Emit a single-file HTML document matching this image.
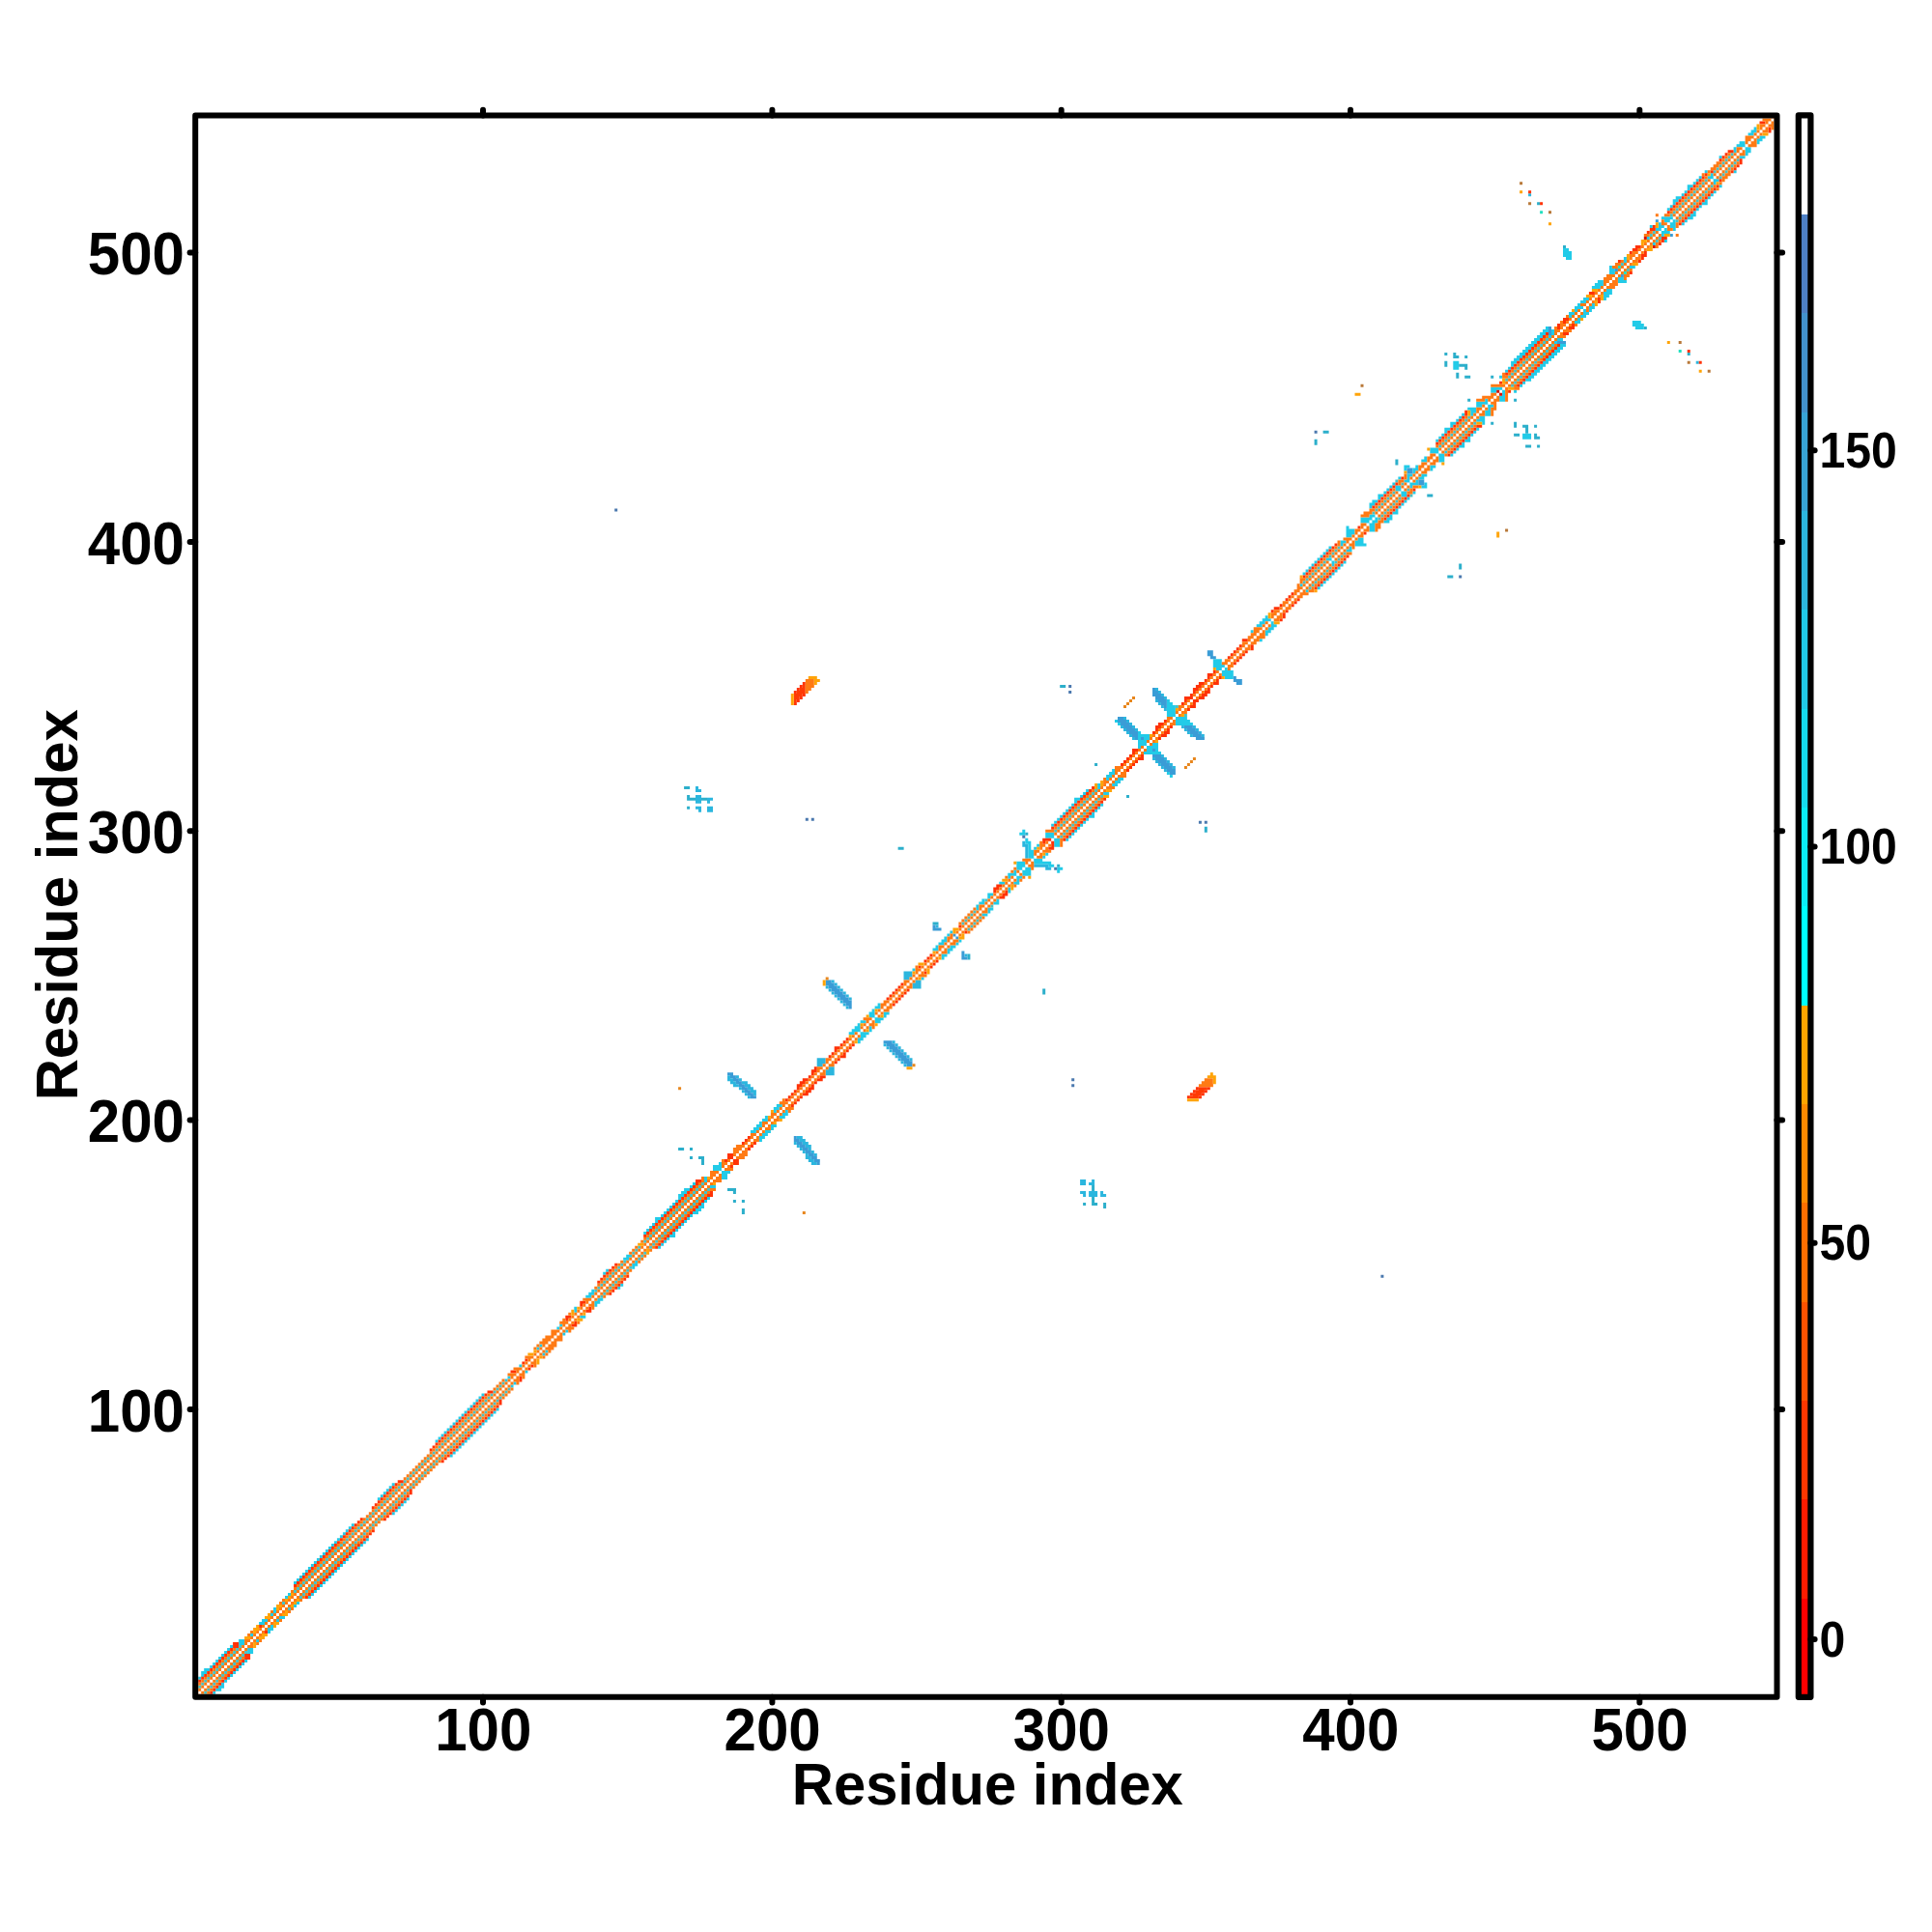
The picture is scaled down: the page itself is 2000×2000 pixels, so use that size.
<!DOCTYPE html><html><head><meta charset="utf-8"><title>Residue index</title>
<style>html,body{margin:0;padding:0;background:#fff}svg{display:block}text{font-family:"Liberation Sans",Arial,Helvetica,sans-serif;font-weight:bold;fill:#000}</style></head><body>
<svg width="2000" height="2000" viewBox="0 0 2000 2000">
<rect width="2000" height="2000" fill="#fff"/>
<g id="map">
<path fill="#22cbe8" d="M217.2 1753.8h3v3h-3zM220.2 1750.8h3v3h-3zM223.2 1747.8h6v3h-6zM226.1 1744.8h6v3h-6zM229.1 1741.8h3v3h-3zM202.2 1738.8h3v3h-3zM232.1 1738.8h3v3h-3zM205.2 1735.8h3v3h-3zM235.1 1735.8h3v3h-3zM208.2 1732.9h3v3h-3zM238.1 1732.9h3v3h-3zM208.2 1729.9h6v3h-6zM241.1 1729.9h3v3h-3zM211.2 1726.9h6v3h-6zM244.1 1726.9h3v3h-3zM217.2 1723.9h3v3h-3zM247.1 1723.9h3v3h-3zM220.2 1720.9h3v3h-3zM250.1 1720.9h3v3h-3zM223.2 1717.9h3v3h-3zM253.1 1717.9h3v3h-3zM226.1 1714.9h3v3h-3zM229.1 1711.9h3v3h-3zM232.1 1708.9h3v3h-3zM256.1 1708.9h6v3h-6zM235.1 1705.9h3v3h-3zM256.1 1705.9h6v3h-6zM238.1 1702.9h3v3h-3zM247.1 1699.9h6v3h-6zM247.1 1696.9h6v3h-6zM265.1 1696.9h3v3h-3zM259.1 1690.9h3v3h-3zM277 1688h3v3h-3zM277 1685h6v3h-6zM280 1682h3v3h-3zM268.1 1679h6v3h-6zM271 1676h6v3h-6zM286 1676h3v3h-3zM289 1673h6v3h-6zM280 1670h3v3h-3zM283 1667h3v3h-3zM283 1664h3v3h-3zM304 1661h3v3h-3zM307 1658h3v3h-3zM295 1652h3v3h-3zM318.9 1652h3v3h-3zM298 1649h3v3h-3zM321.9 1649h3v3h-3zM324.9 1646h3v3h-3zM327.9 1643.1h3v3h-3zM330.9 1640.1h3v3h-3zM304 1637.1h3v3h-3zM333.9 1637.1h3v3h-3zM307 1634.1h3v3h-3zM336.9 1634.1h3v3h-3zM310 1631.1h3v3h-3zM339.9 1631.1h3v3h-3zM312.9 1628.1h3v3h-3zM342.9 1628.1h3v3h-3zM315.9 1625.1h3v3h-3zM345.9 1625.1h3v3h-3zM318.9 1622.1h3v3h-3zM348.9 1622.1h3v3h-3zM321.9 1619.1h3v3h-3zM351.9 1619.1h3v3h-3zM324.9 1616.1h3v3h-3zM354.9 1616.1h3v3h-3zM327.9 1613.1h3v3h-3zM357.8 1613.1h3v3h-3zM330.9 1610.1h3v3h-3zM360.8 1610.1h3v3h-3zM333.9 1607.1h3v3h-3zM363.8 1607.1h3v3h-3zM336.9 1604.1h3v3h-3zM366.8 1604.1h3v3h-3zM339.9 1601.1h3v3h-3zM369.8 1601.1h3v3h-3zM342.9 1598.1h3v3h-3zM372.8 1598.1h3v3h-3zM345.9 1595.2h3v3h-3zM375.8 1595.2h3v3h-3zM348.9 1592.2h3v3h-3zM378.8 1592.2h3v3h-3zM351.9 1589.2h3v3h-3zM354.9 1586.2h3v3h-3zM357.8 1583.2h3v3h-3zM360.8 1580.2h3v3h-3zM363.8 1577.2h3v3h-3zM405.7 1565.2h3v3h-3zM408.7 1562.2h3v3h-3zM411.7 1559.2h3v3h-3zM414.7 1556.2h3v3h-3zM417.7 1553.2h3v3h-3zM390.8 1550.3h3v3h-3zM420.7 1550.3h3v3h-3zM393.8 1547.3h3v3h-3zM396.8 1544.3h3v3h-3zM399.8 1541.3h3v3h-3zM402.7 1538.3h3v3h-3zM405.7 1535.3h3v3h-3zM465.6 1505.4h3v3h-3zM468.6 1502.4h3v3h-3zM471.6 1499.4h3v3h-3zM474.6 1496.4h3v3h-3zM477.6 1493.4h3v3h-3zM450.6 1490.4h3v3h-3zM480.6 1490.4h3v3h-3zM453.6 1487.4h3v3h-3zM483.6 1487.4h3v3h-3zM456.6 1484.4h3v3h-3zM486.6 1484.4h3v3h-3zM459.6 1481.4h3v3h-3zM489.6 1481.4h3v3h-3zM462.6 1478.4h3v3h-3zM492.5 1478.4h3v3h-3zM465.6 1475.4h3v3h-3zM495.5 1475.4h3v3h-3zM468.6 1472.4h3v3h-3zM498.5 1472.4h3v3h-3zM471.6 1469.4h3v3h-3zM501.5 1469.4h3v3h-3zM474.6 1466.4h3v3h-3zM504.5 1466.4h3v3h-3zM477.6 1463.4h3v3h-3zM507.5 1463.4h3v3h-3zM480.6 1460.5h3v3h-3zM510.5 1460.5h3v3h-3zM483.6 1457.5h3v3h-3zM513.5 1457.5h3v3h-3zM486.6 1454.5h3v3h-3zM489.6 1451.5h3v3h-3zM492.5 1448.5h3v3h-3zM495.5 1445.5h3v3h-3zM498.5 1442.5h3v3h-3zM528.5 1433.5h3v3h-3zM531.5 1430.5h3v3h-3zM522.5 1427.5h3v3h-3zM525.5 1424.5h3v3h-3zM543.4 1418.5h3v3h-3zM537.4 1412.6h3v3h-3zM561.4 1400.6h3v3h-3zM564.4 1397.6h3v3h-3zM555.4 1394.6h3v3h-3zM558.4 1391.6h3v3h-3zM582.3 1379.6h3v3h-3zM585.3 1376.6h3v3h-3zM576.4 1373.6h3v3h-3zM579.3 1370.6h3v3h-3zM600.3 1361.7h6v3h-6zM594.3 1355.7h3v3h-3zM594.3 1352.7h3v3h-3zM615.3 1349.7h3v3h-3zM615.3 1346.7h6v3h-6zM618.3 1343.7h6v3h-6zM606.3 1340.7h6v3h-6zM609.3 1337.7h6v3h-6zM612.3 1334.7h3v3h-3zM639.2 1331.7h3v3h-3zM642.2 1328.7h3v3h-3zM624.2 1316.8h3v3h-3zM627.2 1313.8h3v3h-3zM654.2 1310.8h3v3h-3zM654.2 1307.8h6v3h-6zM657.2 1304.8h3v3h-3zM645.2 1301.8h6v3h-6zM648.2 1298.8h6v3h-6zM681.1 1289.8h3v3h-3zM684.1 1286.8h3v3h-3zM687.1 1283.8h3v3h-3zM690.1 1280.8h3v3h-3zM693.1 1277.9h6v3h-6zM666.2 1274.9h3v3h-3zM696.1 1274.9h3v3h-3zM669.1 1271.9h3v3h-3zM699.1 1271.9h3v3h-3zM672.1 1268.9h3v3h-3zM702.1 1268.9h3v3h-3zM675.1 1265.9h3v3h-3zM705.1 1265.9h3v3h-3zM678.1 1262.9h3v3h-3zM708.1 1262.9h3v3h-3zM678.1 1259.9h6v3h-6zM711.1 1259.9h3v3h-3zM684.1 1256.9h3v3h-3zM714 1256.9h3v3h-3zM687.1 1253.9h3v3h-3zM717 1253.9h6v3h-6zM690.1 1250.9h3v3h-3zM720 1250.9h6v3h-6zM693.1 1247.9h3v3h-3zM723 1247.9h6v3h-6zM696.1 1244.9h3v3h-3zM726 1244.9h3v3h-3zM699.1 1241.9h3v3h-3zM729 1241.9h3v3h-3zM702.1 1238.9h3v3h-3zM732 1238.9h3v3h-3zM702.1 1235.9h6v3h-6zM705.1 1233h6v3h-6zM708.1 1230h6v3h-6zM714 1227h3v3h-3zM735 1227h6v3h-6zM717 1224h3v3h-3zM729 1221h3v3h-3zM729 1218h3v3h-3zM747 1218h6v3h-6zM747 1215h6v3h-6zM747 1212h9v3h-9zM738 1209h9v3h-9zM738 1206h9v3h-9zM744 1203h3v3h-3zM785.9 1179.1h3v3h-3zM785.9 1176.1h6v3h-6zM788.9 1173.1h6v3h-6zM776.9 1170.1h6v3h-6zM791.9 1170.1h6v3h-6zM779.9 1167.1h6v3h-6zM797.9 1167.1h3v3h-3zM782.9 1164.1h6v3h-6zM797.9 1164.1h6v3h-6zM785.9 1161.1h3v3h-3zM788.9 1158.1h6v3h-6zM791.9 1155.1h3v3h-3zM806.8 1155.1h6v3h-6zM809.8 1152.1h6v3h-6zM800.8 1149.1h3v3h-3zM812.8 1149.1h3v3h-3zM800.8 1146.1h6v3h-6zM803.8 1143.1h6v3h-6zM887.7 1077.3h3v3h-3zM887.7 1074.3h6v3h-6zM890.6 1071.3h6v3h-6zM878.7 1068.3h6v3h-6zM890.6 1068.3h9v3h-9zM881.7 1065.3h9v3h-9zM899.6 1065.3h3v3h-3zM884.7 1062.3h6v3h-6zM899.6 1062.3h3v3h-3zM887.7 1059.3h3v3h-3zM890.6 1056.3h6v3h-6zM905.6 1056.3h6v3h-6zM905.6 1053.3h9v3h-9zM899.6 1050.4h6v3h-6zM914.6 1050.4h3v3h-3zM899.6 1047.4h6v3h-6zM914.6 1047.4h6v3h-6zM902.6 1044.4h3v3h-3zM905.6 1041.4h6v3h-6zM908.6 1038.4h3v3h-3zM953.5 1011.4h3v3h-3zM944.5 1002.5h3v3h-3zM974.5 990.5h3v3h-3zM974.5 987.5h6v3h-6zM980.4 984.5h3v3h-3zM965.5 981.5h6v3h-6zM980.4 981.5h6v3h-6zM968.5 978.5h3v3h-3zM983.4 978.5h6v3h-6zM971.5 975.5h6v3h-6zM989.4 975.5h3v3h-3zM974.5 972.5h6v3h-6zM992.4 972.5h3v3h-3zM977.4 969.5h3v3h-3zM980.4 966.5h3v3h-3zM983.4 963.5h3v3h-3zM1016.4 945.6h6v3h-6zM1022.3 942.6h3v3h-3zM1010.4 939.6h3v3h-3zM1022.3 939.6h6v3h-6zM1010.4 936.6h3v3h-3zM1013.4 933.6h6v3h-6zM1028.3 933.6h6v3h-6zM1016.4 930.6h3v3h-3zM1031.3 930.6h3v3h-3zM1022.3 927.6h3v3h-3zM1022.3 924.6h6v3h-6zM1043.3 921.6h3v3h-3zM1043.3 918.6h3v3h-3zM1034.3 912.7h6v3h-6zM1049.3 912.7h6v3h-6zM1052.3 909.7h3v3h-3zM1043.3 906.7h3v3h-3zM1052.3 906.7h6v3h-6zM1043.3 903.7h9v3h-9zM1058.3 903.7h9v3h-9zM1049.3 900.7h3v3h-3zM1058.3 900.7h9v3h-9zM1094.2 900.7h3v3h-3zM1052.3 897.7h6v3h-6zM1061.3 897.7h6v3h-6zM1094.2 897.7h6v3h-6zM1052.3 894.7h9v3h-9zM1085.2 894.7h6v3h-6zM1052.3 891.7h9v3h-9zM1070.2 891.7h18v3h-18zM1070.2 888.7h9v3h-9zM1064.3 885.7h6v3h-6zM1079.2 885.7h3v3h-3zM1064.3 882.7h6v3h-6zM1082.2 882.7h3v3h-3zM1064.3 879.7h6v3h-6zM1064.3 876.7h3v3h-3zM1070.2 876.7h3v3h-3zM1064.3 873.7h3v3h-3zM1073.2 873.7h3v3h-3zM1091.2 873.7h6v3h-6zM1061.3 870.7h6v3h-6zM1091.2 870.7h6v3h-6zM1061.3 867.8h3v3h-3zM1091.2 867.8h6v3h-6zM1103.2 867.8h3v3h-3zM1082.2 864.8h9v3h-9zM1106.2 864.8h3v3h-3zM1055.3 861.8h6v3h-6zM1082.2 861.8h9v3h-9zM1109.2 861.8h3v3h-3zM1058.3 858.8h3v3h-3zM1112.1 858.8h3v3h-3zM1115.1 855.8h3v3h-3zM1088.2 852.8h3v3h-3zM1118.1 852.8h3v3h-3zM1091.2 849.8h3v3h-3zM1121.1 849.8h3v3h-3zM1094.2 846.8h3v3h-3zM1124.1 846.8h3v3h-3zM1097.2 843.8h3v3h-3zM1127.1 843.8h6v3h-6zM1100.2 840.8h3v3h-3zM1130.1 840.8h3v3h-3zM1103.2 837.8h3v3h-3zM1133.1 837.8h3v3h-3zM1106.2 834.8h3v3h-3zM1136.1 834.8h3v3h-3zM1109.2 831.8h3v3h-3zM1139.1 831.8h3v3h-3zM1112.1 828.8h3v3h-3zM1112.1 825.8h6v3h-6zM1118.1 822.9h3v3h-3zM1121.1 819.9h3v3h-3zM1142.1 819.9h6v3h-6zM1124.1 816.9h3v3h-3zM1136.1 813.9h3v3h-3zM1136.1 810.9h3v3h-3zM1151.1 810.9h6v3h-6zM1154 807.9h6v3h-6zM1145.1 804.9h3v3h-3zM1157 804.9h6v3h-6zM1145.1 801.9h6v3h-6zM1210.9 801.9h3v3h-3zM1148.1 798.9h6v3h-6zM1207.9 798.9h3v3h-3zM1151.1 795.9h3v3h-3zM1184 778h18v3h-18zM1187 775h6v3h-6zM1196 775h3v3h-3zM1178 772h3v3h-3zM1187 772h12v3h-12zM1178 769h9v3h-9zM1193 769h6v3h-6zM1178 766h9v3h-9zM1178 763h3v3h-3zM1184 763h6v3h-6zM1178 760h12v3h-12zM1178 757h3v3h-3zM1157 748h3v3h-3zM1216.9 748h18v3h-18zM1154 745h3v3h-3zM1216.9 745h15v3h-15zM1216.9 742h12v3h-12zM1207.9 739h9v3h-9zM1207.9 736h9v3h-9zM1207.9 733.1h9v3h-9zM1207.9 730.1h9v3h-9zM1207.9 727.1h6v3h-6zM1207.9 724.1h3v3h-3zM1267.8 700.1h9v3h-9zM1264.8 697.1h12v3h-12zM1264.8 694.1h12v3h-12zM1258.8 691.1h6v3h-6zM1267.8 691.1h3v3h-3zM1255.8 688.1h12v3h-12zM1255.8 685.2h9v3h-9zM1255.8 682.2h9v3h-9zM1303.7 661.2h3v3h-3zM1309.7 655.2h3v3h-3zM1294.7 652.2h3v3h-3zM1309.7 652.2h6v3h-6zM1312.7 649.2h6v3h-6zM1300.7 646.2h6v3h-6zM1315.7 646.2h6v3h-6zM1303.7 643.2h6v3h-6zM1315.7 643.2h3v3h-3zM1306.7 640.3h9v3h-9zM1309.7 637.3h3v3h-3zM1351.6 610.3h3v3h-3zM1363.6 607.3h3v3h-3zM1345.6 604.3h3v3h-3zM1366.6 604.3h3v3h-3zM1369.6 601.3h3v3h-3zM1372.6 598.3h3v3h-3zM1375.5 595.4h3v3h-3zM1348.6 592.4h3v3h-3zM1378.5 592.4h3v3h-3zM1351.6 589.4h3v3h-3zM1381.5 589.4h3v3h-3zM1354.6 586.4h3v3h-3zM1384.5 586.4h3v3h-3zM1357.6 583.4h3v3h-3zM1378.5 583.4h3v3h-3zM1387.5 583.4h3v3h-3zM1360.6 580.4h3v3h-3zM1378.5 580.4h3v3h-3zM1390.5 580.4h3v3h-3zM1363.6 577.4h3v3h-3zM1372.6 577.4h6v3h-6zM1366.6 574.4h3v3h-3zM1369.6 571.4h3v3h-3zM1372.6 568.4h3v3h-3zM1393.5 568.4h6v3h-6zM1375.5 565.4h3v3h-3zM1396.5 565.4h3v3h-3zM1387.5 562.4h3v3h-3zM1402.5 562.4h12v3h-12zM1387.5 559.4h6v3h-6zM1402.5 559.4h9v3h-9zM1405.5 556.4h6v3h-6zM1393.5 553.4h6v3h-6zM1393.5 550.5h9v3h-9zM1393.5 547.5h9v3h-9zM1417.5 547.5h6v3h-6zM1393.5 544.5h3v3h-3zM1417.5 544.5h6v3h-6zM1417.5 541.5h6v3h-6zM1408.5 538.5h9v3h-9zM1420.4 538.5h6v3h-6zM1432.4 538.5h6v3h-6zM1408.5 535.5h12v3h-12zM1423.4 535.5h3v3h-3zM1435.4 535.5h6v3h-6zM1417.5 532.5h6v3h-6zM1438.4 532.5h3v3h-3zM1441.4 529.5h6v3h-6zM1444.4 526.5h3v3h-3zM1417.5 523.5h3v3h-3zM1447.4 523.5h3v3h-3zM1417.5 520.5h6v3h-6zM1450.4 520.5h3v3h-3zM1420.4 517.5h6v3h-6zM1453.4 517.5h3v3h-3zM1426.4 514.5h3v3h-3zM1456.4 514.5h3v3h-3zM1426.4 511.5h6v3h-6zM1450.4 511.5h6v3h-6zM1432.4 508.5h3v3h-3zM1450.4 508.5h6v3h-6zM1462.4 508.5h3v3h-3zM1435.4 505.6h3v3h-3zM1444.4 505.6h6v3h-6zM1438.4 502.6h3v3h-3zM1444.4 502.6h6v3h-6zM1459.4 502.6h3v3h-3zM1471.3 502.6h6v3h-6zM1441.4 499.6h3v3h-3zM1459.4 499.6h9v3h-9zM1474.3 499.6h3v3h-3zM1453.4 496.6h6v3h-6zM1465.3 496.6h3v3h-3zM1447.4 493.6h3v3h-3zM1456.4 493.6h3v3h-3zM1468.3 493.6h6v3h-6zM1456.4 490.6h6v3h-6zM1471.3 490.6h6v3h-6zM1462.4 487.6h3v3h-3zM1453.4 484.6h3v3h-3zM1462.4 484.6h6v3h-6zM1480.3 484.6h3v3h-3zM1453.4 481.6h6v3h-6zM1465.3 481.6h3v3h-3zM1480.3 481.6h6v3h-6zM1471.3 475.6h6v3h-6zM1489.3 475.6h6v3h-6zM1474.3 472.6h3v3h-3zM1489.3 472.6h6v3h-6zM1489.3 469.6h6v3h-6zM1501.3 469.6h3v3h-3zM1480.3 466.6h9v3h-9zM1495.3 466.6h3v3h-3zM1504.3 466.6h3v3h-3zM1480.3 463.6h9v3h-9zM1507.3 463.6h3v3h-3zM1489.3 460.6h3v3h-3zM1510.2 460.6h6v3h-6zM1513.2 457.7h3v3h-3zM1486.3 454.7h3v3h-3zM1516.2 454.7h6v3h-6zM1489.3 451.7h3v3h-3zM1519.2 451.7h3v3h-3zM1576.1 451.7h9v3h-9zM1492.3 448.7h3v3h-3zM1522.2 448.7h3v3h-3zM1576.1 448.7h9v3h-9zM1495.3 445.7h3v3h-3zM1525.2 445.7h3v3h-3zM1495.3 442.7h6v3h-6zM1528.2 442.7h3v3h-3zM1501.3 439.7h3v3h-3zM1501.3 436.7h6v3h-6zM1534.2 436.7h3v3h-3zM1507.3 433.7h3v3h-3zM1528.2 433.7h9v3h-9zM1510.2 430.7h3v3h-3zM1531.2 430.7h6v3h-6zM1513.2 427.7h3v3h-3zM1522.2 427.7h3v3h-3zM1537.2 427.7h6v3h-6zM1522.2 424.7h6v3h-6zM1537.2 424.7h6v3h-6zM1519.2 421.7h9v3h-9zM1540.2 421.7h3v3h-3zM1528.2 418.7h6v3h-6zM1540.2 418.7h6v3h-6zM1528.2 415.7h12v3h-12zM1537.2 412.8h3v3h-3zM1552.1 412.8h6v3h-6zM1552.1 409.8h6v3h-6zM1555.1 406.8h3v3h-3zM1543.2 403.8h6v3h-6zM1555.1 403.8h3v3h-3zM1567.1 403.8h3v3h-3zM1543.2 400.8h12v3h-12zM1573.1 397.8h3v3h-3zM1576.1 394.8h3v3h-3zM1579.1 391.8h6v3h-6zM1552.1 388.8h3v3h-3zM1582.1 388.8h6v3h-6zM1585.1 385.8h6v3h-6zM1558.1 382.8h3v3h-3zM1588.1 382.8h6v3h-6zM1504.3 379.8h6v3h-6zM1561.1 379.8h3v3h-3zM1591.1 379.8h6v3h-6zM1504.3 376.8h6v3h-6zM1564.1 376.8h3v3h-3zM1594.1 376.8h6v3h-6zM1504.3 373.8h6v3h-6zM1564.1 373.8h6v3h-6zM1597 373.8h6v3h-6zM1567.1 370.8h6v3h-6zM1600 370.8h6v3h-6zM1570.1 367.9h6v3h-6zM1603 367.9h6v3h-6zM1573.1 364.9h6v3h-6zM1606 364.9h6v3h-6zM1576.1 361.9h6v3h-6zM1609 361.9h6v3h-6zM1579.1 358.9h6v3h-6zM1612 358.9h6v3h-6zM1582.1 355.9h6v3h-6zM1615 355.9h6v3h-6zM1585.1 352.9h6v3h-6zM1609 352.9h3v3h-3zM1588.1 349.9h6v3h-6zM1612 349.9h6v3h-6zM1591.1 346.9h6v3h-6zM1603 346.9h3v3h-3zM1594.1 343.9h6v3h-6zM1606 343.9h3v3h-3zM1597 340.9h6v3h-6zM1606 340.9h3v3h-3zM1600 337.9h3v3h-3zM1692.8 337.9h9v3h-9zM1689.8 334.9h12v3h-12zM1630 331.9h6v3h-6zM1689.8 331.9h9v3h-9zM1633 328.9h3v3h-3zM1624 325.9h3v3h-3zM1636 325.9h6v3h-6zM1624 323h6v3h-6zM1639 323h6v3h-6zM1630 320h3v3h-3zM1639 320h3v3h-3zM1644.9 320h3v3h-3zM1630 317h9v3h-9zM1644.9 317h6v3h-6zM1633 314h3v3h-3zM1647.9 314h3v3h-3zM1636 311h6v3h-6zM1639 308h6v3h-6zM1659.9 308h3v3h-3zM1659.9 305h6v3h-6zM1659.9 302h9v3h-9zM1662.9 299h6v3h-6zM1647.9 296h9v3h-9zM1650.9 293h9v3h-9zM1653.9 290h6v3h-6zM1674.9 290h9v3h-9zM1674.9 287h6v3h-6zM1665.9 281h6v3h-6zM1665.9 278.1h6v3h-6zM1665.9 275.1h3v3h-3zM1686.8 275.1h6v3h-6zM1680.9 269.1h3v3h-3zM1621 266.1h6v3h-6zM1680.9 266.1h3v3h-3zM1618 263.1h9v3h-9zM1618 260.1h9v3h-9zM1618 257.1h6v3h-6zM1710.8 251.1h3v3h-3zM1722.8 248.1h3v3h-3zM1704.8 245.1h3v3h-3zM1719.8 242.1h3v3h-3zM1719.8 239.1h9v3h-9zM1713.8 236.1h6v3h-6zM1722.8 236.1h3v3h-3zM1731.7 236.1h3v3h-3zM1707.8 233.1h3v3h-3zM1716.8 233.1h6v3h-6zM1728.8 233.1h6v3h-6zM1716.8 230.2h3v3h-3zM1728.8 230.2h6v3h-6zM1740.7 230.2h3v3h-3zM1722.8 227.2h6v3h-6zM1731.7 227.2h3v3h-3zM1743.7 227.2h3v3h-3zM1719.8 224.2h12v3h-12zM1746.7 224.2h6v3h-6zM1749.7 221.2h6v3h-6zM1752.7 218.2h3v3h-3zM1725.8 215.2h3v3h-3zM1755.7 215.2h3v3h-3zM1728.8 212.2h3v3h-3zM1758.7 212.2h3v3h-3zM1731.7 209.2h3v3h-3zM1761.7 209.2h6v3h-6zM1731.7 206.2h6v3h-6zM1764.7 206.2h3v3h-3zM1734.7 203.2h6v3h-6zM1767.7 203.2h3v3h-3zM1740.7 200.2h3v3h-3zM1770.7 200.2h3v3h-3zM1743.7 197.2h3v3h-3zM1773.6 197.2h3v3h-3zM1746.7 194.2h3v3h-3zM1746.7 191.2h6v3h-6zM1779.6 191.2h3v3h-3zM1752.7 188.2h3v3h-3zM1773.6 188.2h3v3h-3zM1755.7 185.3h3v3h-3zM1773.6 185.3h6v3h-6zM1758.7 182.3h3v3h-3zM1767.7 182.3h6v3h-6zM1770.7 179.3h3v3h-3zM1764.7 176.3h3v3h-3zM1794.6 176.3h3v3h-3zM1779.6 161.3h3v3h-3zM1800.6 161.3h6v3h-6zM1806.6 158.3h3v3h-3zM1794.6 155.3h3v3h-3zM1806.6 155.3h6v3h-6zM1794.6 152.3h3v3h-3zM1806.6 152.3h6v3h-6zM1797.6 149.3h9v3h-9zM1800.6 146.3h6v3h-6zM1818.5 146.3h3v3h-3zM1818.5 143.3h6v3h-6zM1821.5 140.4h6v3h-6zM1809.6 137.4h6v3h-6zM1812.6 134.4h6v3h-6zM1815.6 131.4h3v3h-3z"/>
<path fill="#22e0c0" d="M1737.7 361.9h3v3h-3zM1680.9 281h3v3h-3zM1674.9 275.1h3v3h-3zM1594.1 218.2h3v3h-3z"/>
<path fill="#2bb6de" d="M1121.1 1235.9h3v3h-3zM1127.1 1235.9h9v3h-9zM1139.1 1235.9h6v3h-6zM1118.1 1233h6v3h-6zM1127.1 1233h9v3h-9zM1139.1 1233h3v3h-3zM1118.1 1224h6v3h-6zM1127.1 1224h6v3h-6zM1118.1 1221h6v3h-6zM1130.1 1221h3v3h-3zM839.8 1203h6v3h-6zM836.8 1200h6v3h-6zM833.8 1197h6v3h-6zM833.8 1194h3v3h-3zM842.8 1194h3v3h-3zM830.8 1191h3v3h-3zM839.8 1191h3v3h-3zM827.8 1188.1h3v3h-3zM836.8 1188.1h3v3h-3zM824.8 1185.1h3v3h-3zM833.8 1185.1h6v3h-6zM821.8 1182.1h3v3h-3zM830.8 1182.1h6v3h-6zM827.8 1179.1h6v3h-6zM824.8 1176.1h6v3h-6zM773.9 1134.2h3v3h-3zM770.9 1131.2h3v3h-3zM779.9 1131.2h3v3h-3zM767.9 1128.2h3v3h-3zM776.9 1128.2h6v3h-6zM764.9 1125.2h3v3h-3zM773.9 1125.2h6v3h-6zM758.9 1122.2h6v3h-6zM770.9 1122.2h6v3h-6zM755.9 1119.2h6v3h-6zM767.9 1119.2h6v3h-6zM753 1116.2h6v3h-6zM764.9 1116.2h3v3h-3zM753 1113.2h3v3h-3zM761.9 1113.2h3v3h-3zM854.7 1110.2h9v3h-9zM854.7 1107.2h9v3h-9zM857.7 1104.2h6v3h-6zM845.7 1101.2h6v3h-6zM935.5 1101.2h3v3h-3zM845.7 1098.2h9v3h-9zM932.5 1098.2h3v3h-3zM845.7 1095.3h9v3h-9zM929.6 1095.3h3v3h-3zM941.5 1095.3h3v3h-3zM926.6 1092.3h3v3h-3zM938.5 1092.3h3v3h-3zM923.6 1089.3h3v3h-3zM935.5 1089.3h3v3h-3zM920.6 1086.3h3v3h-3zM932.5 1086.3h3v3h-3zM917.6 1083.3h3v3h-3zM929.6 1083.3h3v3h-3zM914.6 1080.3h3v3h-3zM926.6 1080.3h3v3h-3zM923.6 1077.3h3v3h-3zM875.7 1041.4h3v3h-3zM872.7 1038.4h3v3h-3zM869.7 1035.4h3v3h-3zM866.7 1032.4h3v3h-3zM878.7 1032.4h3v3h-3zM863.7 1029.4h3v3h-3zM875.7 1029.4h3v3h-3zM860.7 1026.4h3v3h-3zM872.7 1026.4h3v3h-3zM857.7 1023.4h3v3h-3zM869.7 1023.4h3v3h-3zM854.7 1020.4h3v3h-3zM866.7 1020.4h3v3h-3zM944.5 1020.4h9v3h-9zM863.7 1017.4h3v3h-3zM944.5 1017.4h9v3h-9zM860.7 1014.4h3v3h-3zM947.5 1014.4h6v3h-6zM935.5 1011.4h6v3h-6zM935.5 1008.4h9v3h-9zM935.5 1005.5h9v3h-9zM998.4 987.5h3v3h-3zM968.5 957.6h3v3h-3zM1082.2 897.7h6v3h-6zM1070.2 894.7h15v3h-15zM1061.3 885.7h3v3h-3zM1061.3 882.7h3v3h-3zM1061.3 879.7h3v3h-3zM1061.3 876.7h3v3h-3zM1058.3 873.7h6v3h-6zM1058.3 870.7h3v3h-3zM723 837.8h3v3h-3zM732 837.8h6v3h-6zM720 834.8h6v3h-6zM732 834.8h6v3h-6zM720 828.8h6v3h-6zM732 828.8h3v3h-3zM720 825.8h6v3h-6zM732 825.8h6v3h-6zM720 822.9h6v3h-6zM720 816.9h6v3h-6zM720 813.9h3v3h-3zM1204.9 795.9h3v3h-3zM1201.9 792.9h3v3h-3zM1213.9 792.9h3v3h-3zM1198.9 789.9h3v3h-3zM1210.9 789.9h3v3h-3zM1196 786.9h3v3h-3zM1207.9 786.9h3v3h-3zM1193 783.9h3v3h-3zM1204.9 783.9h3v3h-3zM1201.9 780.9h3v3h-3zM1172 763h3v3h-3zM1169 760h3v3h-3zM1231.9 760h3v3h-3zM1243.8 760h3v3h-3zM1166 757h3v3h-3zM1228.9 757h3v3h-3zM1240.9 757h3v3h-3zM1163 754h3v3h-3zM1175 754h3v3h-3zM1225.9 754h3v3h-3zM1237.9 754h3v3h-3zM1160 751h3v3h-3zM1172 751h3v3h-3zM1222.9 751h3v3h-3zM1234.9 751h3v3h-3zM1169 748h3v3h-3zM1166 745h3v3h-3zM1163 742h3v3h-3zM1204.9 733.1h3v3h-3zM1201.9 730.1h3v3h-3zM1198.9 727.1h3v3h-3zM1196 724.1h3v3h-3zM1204.9 721.1h3v3h-3zM1201.9 718.1h3v3h-3zM1198.9 715.1h3v3h-3zM1196 712.1h3v3h-3zM1755.7 373.8h3v3h-3zM1582.1 200.2h3v3h-3z"/>
<path fill="#2cafcb" d="M767.9 1253.9h3v3h-3zM767.9 1250.9h3v3h-3zM1142.1 1247.9h3v3h-3zM1121.1 1244.9h3v3h-3zM1130.1 1244.9h6v3h-6zM1142.1 1244.9h3v3h-3zM758.9 1241.9h3v3h-3zM767.9 1241.9h3v3h-3zM1130.1 1241.9h3v3h-3zM1130.1 1238.9h3v3h-3zM758.9 1233h3v3h-3zM753 1230h9v3h-9zM1130.1 1230h3v3h-3zM1130.1 1227h3v3h-3zM726 1203h3v3h-3zM726 1200h3v3h-3zM714 1197h3v3h-3zM723 1197h6v3h-6zM702.1 1188.1h6v3h-6zM714 1188.1h3v3h-3zM1079.2 1026.4h3v3h-3zM1079.2 1023.4h3v3h-3zM1001.4 990.5h3v3h-3zM1001.4 987.5h3v3h-3zM965.5 954.6h6v3h-6zM1094.2 894.7h3v3h-3zM929.6 876.7h6v3h-6zM1061.3 861.8h3v3h-3zM1246.8 858.8h3v3h-3zM1246.8 855.8h3v3h-3zM711.1 834.8h3v3h-3zM711.1 825.8h9v3h-9zM726 825.8h6v3h-6zM711.1 822.9h3v3h-3zM1166 822.9h3v3h-3zM708.1 813.9h6v3h-6zM1133.1 789.9h3v3h-3zM1097.2 709.1h6v3h-6zM1498.3 595.4h6v3h-6zM1510.2 586.4h3v3h-3zM1510.2 583.4h3v3h-3zM1477.3 511.5h6v3h-6zM1444.4 478.6h3v3h-3zM1444.4 475.6h3v3h-3zM1579.1 460.6h6v3h-6zM1591.1 460.6h3v3h-3zM1360.6 457.7h3v3h-3zM1360.6 454.7h3v3h-3zM1588.1 451.7h6v3h-6zM1567.1 448.7h6v3h-6zM1588.1 448.7h3v3h-3zM1369.6 445.7h6v3h-6zM1579.1 445.7h3v3h-3zM1579.1 442.7h3v3h-3zM1567.1 439.7h3v3h-3zM1576.1 439.7h6v3h-6zM1588.1 439.7h3v3h-3zM1543.2 436.7h3v3h-3zM1567.1 436.7h3v3h-3zM1519.2 412.8h3v3h-3zM1567.1 412.8h3v3h-3zM1507.3 388.8h3v3h-3zM1516.2 388.8h6v3h-6zM1543.2 388.8h3v3h-3zM1507.3 385.8h3v3h-3zM1516.2 379.8h3v3h-3zM1495.3 376.8h3v3h-3zM1510.2 376.8h9v3h-9zM1495.3 373.8h3v3h-3zM1504.3 367.9h6v3h-6zM1516.2 367.9h3v3h-3zM1495.3 364.9h3v3h-3zM1504.3 364.9h3v3h-3zM1746.7 364.9h3v3h-3zM1701.8 337.9h3v3h-3zM1618 254.1h3v3h-3zM1591.1 209.2h3v3h-3z"/>
<path fill="#3a9cd6" d="M845.7 1203h3v3h-3zM842.8 1200h6v3h-6zM839.8 1197h6v3h-6zM836.8 1194h6v3h-6zM833.8 1191h6v3h-6zM830.8 1188.1h6v3h-6zM827.8 1185.1h6v3h-6zM824.8 1182.1h6v3h-6zM821.8 1179.1h6v3h-6zM821.8 1176.1h3v3h-3zM776.9 1134.2h6v3h-6zM773.9 1131.2h6v3h-6zM770.9 1128.2h6v3h-6zM767.9 1125.2h6v3h-6zM764.9 1122.2h6v3h-6zM761.9 1119.2h6v3h-6zM758.9 1116.2h6v3h-6zM755.9 1113.2h6v3h-6zM753 1110.2h6v3h-6zM938.5 1101.2h6v3h-6zM935.5 1098.2h9v3h-9zM932.5 1095.3h9v3h-9zM929.6 1092.3h9v3h-9zM926.6 1089.3h9v3h-9zM923.6 1086.3h9v3h-9zM920.6 1083.3h9v3h-9zM917.6 1080.3h9v3h-9zM914.6 1077.3h9v3h-9zM878.7 1041.4h3v3h-3zM875.7 1038.4h6v3h-6zM872.7 1035.4h9v3h-9zM869.7 1032.4h9v3h-9zM866.7 1029.4h9v3h-9zM863.7 1026.4h9v3h-9zM860.7 1023.4h9v3h-9zM857.7 1020.4h9v3h-9zM854.7 1017.4h9v3h-9zM854.7 1014.4h6v3h-6zM995.4 990.5h6v3h-6zM995.4 987.5h3v3h-3zM995.4 984.5h3v3h-3zM989.4 969.5h3v3h-3zM986.4 966.5h3v3h-3zM965.5 960.6h9v3h-9zM965.5 957.6h3v3h-3zM1210.9 798.9h6v3h-6zM1207.9 795.9h9v3h-9zM1204.9 792.9h9v3h-9zM1201.9 789.9h9v3h-9zM1198.9 786.9h9v3h-9zM1196 783.9h9v3h-9zM1193 780.9h9v3h-9zM1193 775h3v3h-3zM1175 763h3v3h-3zM1181 763h3v3h-3zM1237.9 763h9v3h-9zM1172 760h6v3h-6zM1234.9 760h9v3h-9zM1169 757h9v3h-9zM1231.9 757h9v3h-9zM1166 754h9v3h-9zM1228.9 754h9v3h-9zM1163 751h9v3h-9zM1225.9 751h9v3h-9zM1160 748h9v3h-9zM1157 745h9v3h-9zM1157 742h6v3h-6zM1204.9 730.1h3v3h-3zM1201.9 727.1h6v3h-6zM1198.9 724.1h9v3h-9zM1196 721.1h9v3h-9zM1193 718.1h9v3h-9zM1193 715.1h6v3h-6zM1193 712.1h3v3h-3zM1279.8 706.1h6v3h-6zM1276.8 703.1h9v3h-9zM1276.8 700.1h3v3h-3zM1252.8 679.2h6v3h-6zM1249.8 676.2h6v3h-6zM1249.8 673.2h6v3h-6zM1468.3 499.6h6v3h-6zM1468.3 496.6h6v3h-6zM1456.4 487.6h6v3h-6zM1456.4 484.6h6v3h-6zM1612 352.9h9v3h-9zM1603 343.9h3v3h-3zM1603 340.9h3v3h-3zM1603 337.9h3v3h-3zM1677.9 284h3v3h-3zM1671.9 278.1h3v3h-3zM1728.8 242.1h3v3h-3zM1713.8 227.2h3v3h-3z"/>
<path fill="#48c2c4" d="M208.2 1753.8h3v3h-3zM211.2 1750.8h3v3h-3zM202.2 1747.8h3v3h-3zM214.2 1747.8h3v3h-3zM205.2 1744.8h3v3h-3zM217.2 1744.8h3v3h-3zM208.2 1741.8h3v3h-3zM220.2 1741.8h3v3h-3zM211.2 1738.8h3v3h-3zM223.2 1738.8h3v3h-3zM214.2 1735.8h3v3h-3zM226.1 1735.8h3v3h-3zM217.2 1732.9h3v3h-3zM229.1 1732.9h3v3h-3zM220.2 1729.9h3v3h-3zM232.1 1729.9h3v3h-3zM223.2 1726.9h3v3h-3zM235.1 1726.9h3v3h-3zM226.1 1723.9h3v3h-3zM238.1 1723.9h3v3h-3zM229.1 1720.9h3v3h-3zM241.1 1720.9h3v3h-3zM232.1 1717.9h3v3h-3zM244.1 1717.9h3v3h-3zM235.1 1714.9h3v3h-3zM247.1 1714.9h3v3h-3zM238.1 1711.9h3v3h-3zM250.1 1711.9h3v3h-3zM241.1 1708.9h3v3h-3zM253.1 1708.9h3v3h-3zM244.1 1705.9h3v3h-3zM247.1 1702.9h3v3h-3zM298 1664h3v3h-3zM292 1658h3v3h-3zM310 1652h3v3h-3zM312.9 1649h3v3h-3zM304 1646h3v3h-3zM315.9 1646h3v3h-3zM307 1643.1h3v3h-3zM318.9 1643.1h3v3h-3zM310 1640.1h3v3h-3zM321.9 1640.1h3v3h-3zM312.9 1637.1h3v3h-3zM324.9 1637.1h3v3h-3zM315.9 1634.1h3v3h-3zM327.9 1634.1h3v3h-3zM318.9 1631.1h3v3h-3zM330.9 1631.1h3v3h-3zM321.9 1628.1h3v3h-3zM333.9 1628.1h3v3h-3zM324.9 1625.1h3v3h-3zM336.9 1625.1h3v3h-3zM327.9 1622.1h3v3h-3zM339.9 1622.1h3v3h-3zM330.9 1619.1h3v3h-3zM342.9 1619.1h3v3h-3zM333.9 1616.1h3v3h-3zM345.9 1616.1h3v3h-3zM336.9 1613.1h3v3h-3zM348.9 1613.1h3v3h-3zM339.9 1610.1h3v3h-3zM351.9 1610.1h3v3h-3zM342.9 1607.1h3v3h-3zM354.9 1607.1h3v3h-3zM345.9 1604.1h3v3h-3zM357.8 1604.1h3v3h-3zM348.9 1601.1h3v3h-3zM360.8 1601.1h3v3h-3zM351.9 1598.1h3v3h-3zM363.8 1598.1h3v3h-3zM354.9 1595.2h3v3h-3zM366.8 1595.2h3v3h-3zM357.8 1592.2h3v3h-3zM369.8 1592.2h3v3h-3zM360.8 1589.2h3v3h-3zM372.8 1589.2h3v3h-3zM363.8 1586.2h3v3h-3zM375.8 1586.2h3v3h-3zM366.8 1583.2h3v3h-3zM378.8 1583.2h3v3h-3zM369.8 1580.2h3v3h-3zM381.8 1580.2h3v3h-3zM372.8 1577.2h3v3h-3zM384.8 1577.2h3v3h-3zM375.8 1574.2h3v3h-3zM387.8 1574.2h3v3h-3zM378.8 1571.2h3v3h-3zM390.8 1571.2h3v3h-3zM381.8 1568.2h3v3h-3zM393.8 1568.2h3v3h-3zM384.8 1565.2h3v3h-3zM396.8 1565.2h3v3h-3zM387.8 1562.2h3v3h-3zM399.8 1562.2h3v3h-3zM390.8 1559.2h3v3h-3zM402.7 1559.2h3v3h-3zM393.8 1556.2h3v3h-3zM405.7 1556.2h3v3h-3zM396.8 1553.2h3v3h-3zM408.7 1553.2h3v3h-3zM399.8 1550.3h3v3h-3zM411.7 1550.3h3v3h-3zM402.7 1547.3h3v3h-3zM414.7 1547.3h3v3h-3zM405.7 1544.3h3v3h-3zM417.7 1544.3h3v3h-3zM408.7 1541.3h3v3h-3zM420.7 1541.3h3v3h-3zM411.7 1538.3h3v3h-3zM423.7 1538.3h3v3h-3zM414.7 1535.3h3v3h-3zM426.7 1535.3h3v3h-3zM417.7 1532.3h3v3h-3zM429.7 1532.3h3v3h-3zM420.7 1529.3h3v3h-3zM432.7 1529.3h3v3h-3zM423.7 1526.3h3v3h-3zM435.7 1526.3h3v3h-3zM426.7 1523.3h3v3h-3zM438.7 1523.3h3v3h-3zM429.7 1520.3h3v3h-3zM441.7 1520.3h3v3h-3zM432.7 1517.3h3v3h-3zM444.7 1517.3h3v3h-3zM435.7 1514.3h3v3h-3zM447.6 1514.3h3v3h-3zM438.7 1511.3h3v3h-3zM450.6 1511.3h3v3h-3zM441.7 1508.3h3v3h-3zM453.6 1508.3h3v3h-3zM444.7 1505.4h3v3h-3zM456.6 1505.4h3v3h-3zM447.6 1502.4h3v3h-3zM459.6 1502.4h3v3h-3zM450.6 1499.4h3v3h-3zM462.6 1499.4h3v3h-3zM453.6 1496.4h3v3h-3zM465.6 1496.4h3v3h-3zM456.6 1493.4h3v3h-3zM468.6 1493.4h3v3h-3zM459.6 1490.4h3v3h-3zM471.6 1490.4h3v3h-3zM462.6 1487.4h3v3h-3zM474.6 1487.4h3v3h-3zM465.6 1484.4h3v3h-3zM477.6 1484.4h3v3h-3zM468.6 1481.4h3v3h-3zM480.6 1481.4h3v3h-3zM471.6 1478.4h3v3h-3zM483.6 1478.4h3v3h-3zM474.6 1475.4h3v3h-3zM486.6 1475.4h3v3h-3zM477.6 1472.4h3v3h-3zM489.6 1472.4h3v3h-3zM480.6 1469.4h3v3h-3zM492.5 1469.4h3v3h-3zM483.6 1466.4h3v3h-3zM495.5 1466.4h3v3h-3zM486.6 1463.4h3v3h-3zM498.5 1463.4h3v3h-3zM489.6 1460.5h3v3h-3zM501.5 1460.5h3v3h-3zM492.5 1457.5h3v3h-3zM504.5 1457.5h3v3h-3zM495.5 1454.5h3v3h-3zM507.5 1454.5h3v3h-3zM498.5 1451.5h3v3h-3zM510.5 1451.5h3v3h-3zM501.5 1448.5h3v3h-3zM513.5 1448.5h3v3h-3zM504.5 1445.5h3v3h-3zM516.5 1445.5h3v3h-3zM507.5 1442.5h3v3h-3zM519.5 1442.5h3v3h-3zM510.5 1439.5h3v3h-3zM522.5 1439.5h3v3h-3zM513.5 1436.5h3v3h-3zM525.5 1436.5h3v3h-3zM516.5 1433.5h3v3h-3zM519.5 1430.5h3v3h-3zM621.3 1340.7h3v3h-3zM624.2 1337.7h3v3h-3zM615.3 1334.7h3v3h-3zM627.2 1334.7h3v3h-3zM618.3 1331.7h3v3h-3zM630.2 1331.7h3v3h-3zM621.3 1328.7h3v3h-3zM633.2 1328.7h3v3h-3zM624.2 1325.7h3v3h-3zM636.2 1325.7h3v3h-3zM627.2 1322.8h3v3h-3zM639.2 1322.8h3v3h-3zM630.2 1319.8h3v3h-3zM642.2 1319.8h3v3h-3zM633.2 1316.8h3v3h-3zM645.2 1316.8h3v3h-3zM636.2 1313.8h3v3h-3zM648.2 1313.8h3v3h-3zM639.2 1310.8h3v3h-3zM651.2 1310.8h3v3h-3zM642.2 1307.8h3v3h-3zM645.2 1304.8h3v3h-3zM660.2 1301.8h3v3h-3zM663.2 1298.8h3v3h-3zM654.2 1295.8h3v3h-3zM666.2 1295.8h3v3h-3zM657.2 1292.8h3v3h-3zM660.2 1289.8h3v3h-3zM672.1 1289.8h3v3h-3zM675.1 1286.8h3v3h-3zM666.2 1283.8h3v3h-3zM678.1 1283.8h3v3h-3zM669.1 1280.8h3v3h-3zM681.1 1280.8h3v3h-3zM672.1 1277.9h3v3h-3zM684.1 1277.9h3v3h-3zM675.1 1274.9h3v3h-3zM687.1 1274.9h3v3h-3zM678.1 1271.9h3v3h-3zM690.1 1271.9h3v3h-3zM681.1 1268.9h3v3h-3zM693.1 1268.9h3v3h-3zM684.1 1265.9h3v3h-3zM696.1 1265.9h3v3h-3zM687.1 1262.9h3v3h-3zM699.1 1262.9h3v3h-3zM690.1 1259.9h3v3h-3zM702.1 1259.9h3v3h-3zM693.1 1256.9h3v3h-3zM705.1 1256.9h3v3h-3zM696.1 1253.9h3v3h-3zM708.1 1253.9h3v3h-3zM699.1 1250.9h3v3h-3zM711.1 1250.9h3v3h-3zM702.1 1247.9h3v3h-3zM714 1247.9h3v3h-3zM705.1 1244.9h3v3h-3zM717 1244.9h3v3h-3zM708.1 1241.9h3v3h-3zM720 1241.9h3v3h-3zM711.1 1238.9h3v3h-3zM723 1238.9h3v3h-3zM714 1235.9h3v3h-3zM726 1235.9h3v3h-3zM717 1233h3v3h-3zM729 1233h3v3h-3zM720 1230h3v3h-3zM732 1230h3v3h-3zM723 1227h3v3h-3zM726 1224h3v3h-3zM1001.4 960.6h3v3h-3zM1004.4 957.6h3v3h-3zM995.4 954.6h3v3h-3zM1007.4 954.6h3v3h-3zM998.4 951.6h3v3h-3zM1010.4 951.6h3v3h-3zM1001.4 948.6h3v3h-3zM1013.4 948.6h3v3h-3zM1004.4 945.6h3v3h-3zM1007.4 942.6h3v3h-3zM1025.3 936.6h3v3h-3zM1019.4 930.6h3v3h-3zM1097.2 864.8h3v3h-3zM1100.2 861.8h3v3h-3zM1091.2 858.8h3v3h-3zM1103.2 858.8h3v3h-3zM1094.2 855.8h3v3h-3zM1106.2 855.8h3v3h-3zM1097.2 852.8h3v3h-3zM1109.2 852.8h3v3h-3zM1100.2 849.8h3v3h-3zM1112.1 849.8h3v3h-3zM1103.2 846.8h3v3h-3zM1115.1 846.8h3v3h-3zM1106.2 843.8h3v3h-3zM1118.1 843.8h3v3h-3zM1109.2 840.8h3v3h-3zM1121.1 840.8h3v3h-3zM1112.1 837.8h3v3h-3zM1124.1 837.8h3v3h-3zM1115.1 834.8h3v3h-3zM1127.1 834.8h3v3h-3zM1118.1 831.8h3v3h-3zM1130.1 831.8h3v3h-3zM1121.1 828.8h3v3h-3zM1133.1 828.8h3v3h-3zM1124.1 825.8h3v3h-3zM1136.1 825.8h3v3h-3zM1127.1 822.9h3v3h-3zM1139.1 822.9h3v3h-3zM1130.1 819.9h3v3h-3zM1133.1 816.9h3v3h-3zM1225.9 739h3v3h-3zM1216.9 730.1h3v3h-3zM1354.6 607.3h3v3h-3zM1357.6 604.3h3v3h-3zM1348.6 601.3h3v3h-3zM1360.6 601.3h3v3h-3zM1351.6 598.3h3v3h-3zM1363.6 598.3h3v3h-3zM1354.6 595.4h3v3h-3zM1366.6 595.4h3v3h-3zM1357.6 592.4h3v3h-3zM1369.6 592.4h3v3h-3zM1360.6 589.4h3v3h-3zM1372.6 589.4h3v3h-3zM1363.6 586.4h3v3h-3zM1375.5 586.4h3v3h-3zM1366.6 583.4h3v3h-3zM1369.6 580.4h3v3h-3zM1381.5 580.4h3v3h-3zM1384.5 577.4h3v3h-3zM1375.5 574.4h3v3h-3zM1387.5 574.4h3v3h-3zM1378.5 571.4h3v3h-3zM1390.5 571.4h3v3h-3zM1381.5 568.4h3v3h-3zM1384.5 565.4h3v3h-3zM1426.4 535.5h3v3h-3zM1429.4 532.5h3v3h-3zM1420.4 529.5h3v3h-3zM1432.4 529.5h3v3h-3zM1423.4 526.5h3v3h-3zM1435.4 526.5h3v3h-3zM1426.4 523.5h3v3h-3zM1438.4 523.5h3v3h-3zM1429.4 520.5h3v3h-3zM1441.4 520.5h3v3h-3zM1432.4 517.5h3v3h-3zM1444.4 517.5h3v3h-3zM1435.4 514.5h3v3h-3zM1447.4 514.5h3v3h-3zM1438.4 511.5h3v3h-3zM1459.4 511.5h3v3h-3zM1441.4 508.5h3v3h-3zM1456.4 505.6h3v3h-3zM1450.4 499.6h3v3h-3zM1444.4 496.6h3v3h-3zM1498.3 463.6h3v3h-3zM1501.3 460.6h3v3h-3zM1492.3 457.7h3v3h-3zM1504.3 457.7h3v3h-3zM1495.3 454.7h3v3h-3zM1507.3 454.7h3v3h-3zM1498.3 451.7h3v3h-3zM1510.2 451.7h3v3h-3zM1501.3 448.7h3v3h-3zM1513.2 448.7h3v3h-3zM1504.3 445.7h3v3h-3zM1516.2 445.7h3v3h-3zM1507.3 442.7h3v3h-3zM1519.2 442.7h3v3h-3zM1510.2 439.7h3v3h-3zM1522.2 439.7h3v3h-3zM1513.2 436.7h3v3h-3zM1525.2 436.7h3v3h-3zM1516.2 433.7h3v3h-3zM1519.2 430.7h3v3h-3zM1564.1 397.8h3v3h-3zM1567.1 394.8h3v3h-3zM1558.1 391.8h3v3h-3zM1570.1 391.8h3v3h-3zM1561.1 388.8h3v3h-3zM1573.1 388.8h3v3h-3zM1564.1 385.8h3v3h-3zM1576.1 385.8h3v3h-3zM1567.1 382.8h3v3h-3zM1579.1 382.8h3v3h-3zM1570.1 379.8h3v3h-3zM1582.1 379.8h3v3h-3zM1573.1 376.8h3v3h-3zM1585.1 376.8h3v3h-3zM1576.1 373.8h3v3h-3zM1588.1 373.8h3v3h-3zM1579.1 370.8h3v3h-3zM1591.1 370.8h3v3h-3zM1582.1 367.9h3v3h-3zM1594.1 367.9h3v3h-3zM1585.1 364.9h3v3h-3zM1597 364.9h3v3h-3zM1588.1 361.9h3v3h-3zM1600 361.9h3v3h-3zM1591.1 358.9h3v3h-3zM1603 358.9h3v3h-3zM1594.1 355.9h3v3h-3zM1606 355.9h3v3h-3zM1597 352.9h3v3h-3zM1600 349.9h3v3h-3zM1683.9 278.1h3v3h-3zM1677.9 272.1h3v3h-3zM1713.8 248.1h3v3h-3zM1716.8 245.1h3v3h-3zM1707.8 242.1h3v3h-3zM1710.8 239.1h3v3h-3zM1734.7 227.2h3v3h-3zM1737.7 224.2h3v3h-3zM1728.8 221.2h3v3h-3zM1740.7 221.2h3v3h-3zM1731.7 218.2h3v3h-3zM1743.7 218.2h3v3h-3zM1734.7 215.2h3v3h-3zM1746.7 215.2h3v3h-3zM1737.7 212.2h3v3h-3zM1749.7 212.2h3v3h-3zM1740.7 209.2h3v3h-3zM1752.7 209.2h3v3h-3zM1743.7 206.2h3v3h-3zM1755.7 206.2h3v3h-3zM1746.7 203.2h3v3h-3zM1758.7 203.2h3v3h-3zM1749.7 200.2h3v3h-3zM1761.7 200.2h3v3h-3zM1752.7 197.2h3v3h-3zM1764.7 197.2h3v3h-3zM1755.7 194.2h3v3h-3zM1767.7 194.2h3v3h-3zM1758.7 191.2h3v3h-3zM1770.7 191.2h3v3h-3zM1761.7 188.2h3v3h-3zM1764.7 185.3h3v3h-3zM1779.6 182.3h3v3h-3zM1782.6 179.3h3v3h-3zM1773.6 176.3h3v3h-3zM1785.6 176.3h3v3h-3zM1776.6 173.3h3v3h-3zM1788.6 173.3h3v3h-3zM1779.6 170.3h3v3h-3zM1791.6 170.3h3v3h-3zM1782.6 167.3h3v3h-3zM1794.6 167.3h3v3h-3zM1785.6 164.3h3v3h-3zM1797.6 164.3h3v3h-3zM1788.6 161.3h3v3h-3zM1791.6 158.3h3v3h-3z"/>
<path fill="#4a78ae" d="M1429.4 1319.8h3v3h-3zM1109.2 1122.2h3v3h-3zM1109.2 1116.2h3v3h-3zM1091.2 897.7h3v3h-3zM1058.3 864.8h3v3h-3zM1240.9 849.8h3v3h-3zM1246.8 849.8h3v3h-3zM833.8 846.8h3v3h-3zM839.8 846.8h3v3h-3zM1106.2 715.1h3v3h-3zM1106.2 709.1h3v3h-3zM1510.2 595.4h3v3h-3zM636.2 526.5h3v3h-3zM1360.6 445.7h3v3h-3z"/>
<path fill="#b87838" d="M1558.1 547.5h3v3h-3zM1408.5 397.8h3v3h-3zM1767.7 382.8h3v3h-3zM1746.7 373.8h3v3h-3zM1737.7 352.9h3v3h-3zM1603 218.2h3v3h-3zM1582.1 209.2h3v3h-3zM1573.1 188.2h3v3h-3z"/>
<path fill="#d41000" d="M1552.1 406.8h3v3h-3zM1549.2 403.8h3v3h-3zM1710.8 254.1h3v3h-3zM1701.8 245.1h3v3h-3z"/>
<path fill="#e8861c" d="M830.8 1253.9h3v3h-3zM702.1 1125.2h3v3h-3zM944.5 1101.2h3v3h-3zM854.7 1011.4h3v3h-3zM1225.9 792.9h3v3h-3zM1228.9 789.9h3v3h-3zM1231.9 786.9h3v3h-3zM1234.9 783.9h3v3h-3zM1163 730.1h3v3h-3zM1166 727.1h3v3h-3zM1169 724.1h3v3h-3zM1172 721.1h3v3h-3z"/>
<path fill="#ff3206" d="M214.2 1753.8h3v3h-3zM217.2 1750.8h3v3h-3zM220.2 1747.8h3v3h-3zM223.2 1744.8h3v3h-3zM202.2 1741.8h3v3h-3zM226.1 1741.8h3v3h-3zM205.2 1738.8h3v3h-3zM229.1 1738.8h3v3h-3zM208.2 1735.8h3v3h-3zM232.1 1735.8h3v3h-3zM211.2 1732.9h3v3h-3zM235.1 1732.9h3v3h-3zM214.2 1729.9h3v3h-3zM238.1 1729.9h3v3h-3zM217.2 1726.9h3v3h-3zM241.1 1726.9h3v3h-3zM220.2 1723.9h3v3h-3zM244.1 1723.9h3v3h-3zM223.2 1720.9h3v3h-3zM247.1 1720.9h3v3h-3zM226.1 1717.9h3v3h-3zM250.1 1717.9h3v3h-3zM229.1 1714.9h3v3h-3zM253.1 1714.9h6v3h-6zM232.1 1711.9h3v3h-3zM253.1 1711.9h6v3h-6zM235.1 1708.9h3v3h-3zM238.1 1705.9h3v3h-3zM241.1 1702.9h6v3h-6zM241.1 1699.9h6v3h-6zM274 1688h3v3h-3zM268.1 1682h3v3h-3zM315.9 1652h3v3h-3zM318.9 1649h3v3h-3zM321.9 1646h3v3h-3zM324.9 1643.1h3v3h-3zM304 1640.1h3v3h-3zM327.9 1640.1h3v3h-3zM307 1637.1h3v3h-3zM330.9 1637.1h3v3h-3zM310 1634.1h3v3h-3zM333.9 1634.1h3v3h-3zM312.9 1631.1h3v3h-3zM336.9 1631.1h3v3h-3zM315.9 1628.1h3v3h-3zM339.9 1628.1h3v3h-3zM318.9 1625.1h3v3h-3zM342.9 1625.1h3v3h-3zM321.9 1622.1h3v3h-3zM345.9 1622.1h3v3h-3zM324.9 1619.1h3v3h-3zM348.9 1619.1h3v3h-3zM327.9 1616.1h3v3h-3zM351.9 1616.1h3v3h-3zM330.9 1613.1h3v3h-3zM354.9 1613.1h3v3h-3zM333.9 1610.1h3v3h-3zM357.8 1610.1h3v3h-3zM336.9 1607.1h3v3h-3zM360.8 1607.1h3v3h-3zM339.9 1604.1h3v3h-3zM363.8 1604.1h3v3h-3zM342.9 1601.1h3v3h-3zM366.8 1601.1h3v3h-3zM345.9 1598.1h3v3h-3zM369.8 1598.1h3v3h-3zM348.9 1595.2h3v3h-3zM372.8 1595.2h3v3h-3zM351.9 1592.2h3v3h-3zM375.8 1592.2h3v3h-3zM354.9 1589.2h3v3h-3zM378.8 1589.2h3v3h-3zM357.8 1586.2h3v3h-3zM381.8 1586.2h3v3h-3zM360.8 1583.2h3v3h-3zM384.8 1583.2h3v3h-3zM363.8 1580.2h3v3h-3zM366.8 1577.2h3v3h-3zM369.8 1574.2h3v3h-3zM372.8 1571.2h3v3h-3zM396.8 1571.2h3v3h-3zM399.8 1568.2h3v3h-3zM402.7 1565.2h3v3h-3zM405.7 1562.2h3v3h-3zM384.8 1559.2h3v3h-3zM408.7 1559.2h3v3h-3zM387.8 1556.2h3v3h-3zM411.7 1556.2h3v3h-3zM390.8 1553.2h3v3h-3zM414.7 1553.2h3v3h-3zM393.8 1550.3h3v3h-3zM417.7 1550.3h3v3h-3zM396.8 1547.3h3v3h-3zM420.7 1547.3h3v3h-3zM399.8 1544.3h3v3h-3zM423.7 1544.3h3v3h-3zM402.7 1541.3h3v3h-3zM423.7 1541.3h3v3h-3zM405.7 1538.3h3v3h-3zM408.7 1535.3h3v3h-3zM411.7 1532.3h6v3h-6zM456.6 1511.3h3v3h-3zM459.6 1508.3h3v3h-3zM462.6 1505.4h3v3h-3zM465.6 1502.4h3v3h-3zM444.7 1499.4h3v3h-3zM468.6 1499.4h3v3h-3zM447.6 1496.4h3v3h-3zM471.6 1496.4h3v3h-3zM450.6 1493.4h3v3h-3zM474.6 1493.4h3v3h-3zM453.6 1490.4h3v3h-3zM477.6 1490.4h3v3h-3zM456.6 1487.4h3v3h-3zM480.6 1487.4h3v3h-3zM459.6 1484.4h3v3h-3zM483.6 1484.4h3v3h-3zM462.6 1481.4h3v3h-3zM486.6 1481.4h3v3h-3zM465.6 1478.4h3v3h-3zM489.6 1478.4h3v3h-3zM468.6 1475.4h3v3h-3zM492.5 1475.4h3v3h-3zM471.6 1472.4h3v3h-3zM495.5 1472.4h3v3h-3zM474.6 1469.4h3v3h-3zM498.5 1469.4h3v3h-3zM477.6 1466.4h3v3h-3zM501.5 1466.4h3v3h-3zM480.6 1463.4h3v3h-3zM504.5 1463.4h3v3h-3zM483.6 1460.5h3v3h-3zM507.5 1460.5h3v3h-3zM486.6 1457.5h3v3h-3zM510.5 1457.5h3v3h-3zM489.6 1454.5h3v3h-3zM513.5 1454.5h3v3h-3zM492.5 1451.5h3v3h-3zM516.5 1451.5h3v3h-3zM495.5 1448.5h3v3h-3zM516.5 1448.5h3v3h-3zM498.5 1445.5h3v3h-3zM501.5 1442.5h3v3h-3zM504.5 1439.5h6v3h-6zM537.4 1427.5h3v3h-3zM537.4 1424.5h3v3h-3zM528.5 1418.5h6v3h-6zM546.4 1415.6h3v3h-3zM549.4 1412.6h3v3h-3zM540.4 1409.6h3v3h-3zM543.4 1406.6h3v3h-3zM591.3 1370.6h6v3h-6zM594.3 1367.7h3v3h-3zM585.3 1364.7h3v3h-3zM585.3 1361.7h6v3h-6zM606.3 1355.7h6v3h-6zM609.3 1352.7h3v3h-3zM600.3 1349.7h3v3h-3zM600.3 1346.7h6v3h-6zM630.2 1337.7h3v3h-3zM633.2 1334.7h3v3h-3zM636.2 1331.7h3v3h-3zM639.2 1328.7h3v3h-3zM618.3 1325.7h3v3h-3zM642.2 1325.7h3v3h-3zM621.3 1322.8h3v3h-3zM645.2 1322.8h3v3h-3zM624.2 1319.8h3v3h-3zM648.2 1319.8h3v3h-3zM627.2 1316.8h3v3h-3zM630.2 1313.8h3v3h-3zM633.2 1310.8h3v3h-3zM636.2 1307.8h3v3h-3zM678.1 1289.8h3v3h-3zM681.1 1286.8h3v3h-3zM684.1 1283.8h3v3h-3zM687.1 1280.8h3v3h-3zM666.2 1277.9h3v3h-3zM690.1 1277.9h3v3h-3zM669.1 1274.9h3v3h-3zM693.1 1274.9h3v3h-3zM672.1 1271.9h3v3h-3zM696.1 1271.9h3v3h-3zM675.1 1268.9h3v3h-3zM699.1 1268.9h3v3h-3zM678.1 1265.9h3v3h-3zM702.1 1265.9h3v3h-3zM681.1 1262.9h3v3h-3zM705.1 1262.9h3v3h-3zM684.1 1259.9h3v3h-3zM708.1 1259.9h3v3h-3zM687.1 1256.9h3v3h-3zM711.1 1256.9h3v3h-3zM690.1 1253.9h3v3h-3zM714 1253.9h3v3h-3zM693.1 1250.9h3v3h-3zM717 1250.9h3v3h-3zM696.1 1247.9h3v3h-3zM720 1247.9h3v3h-3zM699.1 1244.9h3v3h-3zM723 1244.9h3v3h-3zM702.1 1241.9h3v3h-3zM726 1241.9h3v3h-3zM705.1 1238.9h3v3h-3zM729 1238.9h3v3h-3zM708.1 1235.9h3v3h-3zM732 1235.9h6v3h-6zM711.1 1233h3v3h-3zM735 1233h3v3h-3zM714 1230h3v3h-3zM717 1227h3v3h-3zM720 1224h3v3h-3zM720 1221h6v3h-6zM755.9 1206h3v3h-3zM758.9 1203h6v3h-6zM750 1200h3v3h-3zM758.9 1200h6v3h-6zM753 1197h6v3h-6zM753 1194h6v3h-6zM773.9 1188.1h3v3h-3zM776.9 1185.1h3v3h-3zM767.9 1182.1h3v3h-3zM779.9 1182.1h3v3h-3zM770.9 1179.1h3v3h-3zM773.9 1176.1h3v3h-3zM818.8 1143.1h3v3h-3zM821.8 1140.2h3v3h-3zM812.8 1137.2h3v3h-3zM824.8 1137.2h3v3h-3zM815.8 1134.2h3v3h-3zM827.8 1134.2h3v3h-3zM1228.9 1134.2h3v3h-3zM1240.9 1134.2h3v3h-3zM818.8 1131.2h3v3h-3zM830.8 1131.2h6v3h-6zM1231.9 1131.2h3v3h-3zM1243.8 1131.2h3v3h-3zM821.8 1128.2h3v3h-3zM833.8 1128.2h6v3h-6zM1234.9 1128.2h3v3h-3zM1246.8 1128.2h3v3h-3zM824.8 1125.2h3v3h-3zM836.8 1125.2h6v3h-6zM1237.9 1125.2h3v3h-3zM1249.8 1125.2h3v3h-3zM824.8 1122.2h6v3h-6zM839.8 1122.2h3v3h-3zM827.8 1119.2h6v3h-6zM842.8 1119.2h3v3h-3zM830.8 1116.2h6v3h-6zM845.7 1116.2h6v3h-6zM836.8 1113.2h3v3h-3zM848.7 1113.2h6v3h-6zM839.8 1110.2h3v3h-3zM839.8 1107.2h6v3h-6zM842.8 1104.2h3v3h-3zM863.7 1098.2h3v3h-3zM866.7 1095.3h3v3h-3zM857.7 1092.3h3v3h-3zM869.7 1092.3h6v3h-6zM860.7 1089.3h3v3h-3zM872.7 1089.3h3v3h-3zM863.7 1086.3h3v3h-3zM875.7 1086.3h3v3h-3zM863.7 1083.3h6v3h-6zM878.7 1083.3h3v3h-3zM869.7 1080.3h3v3h-3zM881.7 1080.3h3v3h-3zM872.7 1077.3h3v3h-3zM875.7 1074.3h3v3h-3zM923.6 1038.4h3v3h-3zM926.6 1035.4h3v3h-3zM917.6 1032.4h3v3h-3zM929.6 1032.4h3v3h-3zM920.6 1029.4h3v3h-3zM932.5 1029.4h3v3h-3zM923.6 1026.4h3v3h-3zM935.5 1026.4h3v3h-3zM926.6 1023.4h3v3h-3zM938.5 1023.4h3v3h-3zM929.6 1020.4h3v3h-3zM932.5 1017.4h3v3h-3zM956.5 1005.5h3v3h-3zM950.5 999.5h3v3h-3zM962.5 999.5h3v3h-3zM965.5 996.5h3v3h-3zM956.5 993.5h3v3h-3zM968.5 993.5h3v3h-3zM959.5 990.5h3v3h-3zM962.5 987.5h3v3h-3zM998.4 963.5h3v3h-3zM992.4 957.6h3v3h-3zM1034.3 927.6h6v3h-6zM1037.3 924.6h6v3h-6zM1028.3 921.6h3v3h-3zM1040.3 921.6h3v3h-3zM1028.3 918.6h6v3h-6zM1031.3 915.6h6v3h-6zM1085.2 876.7h6v3h-6zM1088.2 873.7h3v3h-3zM1079.2 870.7h3v3h-3zM1088.2 870.7h3v3h-3zM1079.2 867.8h9v3h-9zM1100.2 867.8h3v3h-3zM1103.2 864.8h3v3h-3zM1106.2 861.8h3v3h-3zM1109.2 858.8h3v3h-3zM1088.2 855.8h3v3h-3zM1112.1 855.8h3v3h-3zM1091.2 852.8h3v3h-3zM1115.1 852.8h3v3h-3zM1094.2 849.8h3v3h-3zM1118.1 849.8h3v3h-3zM1097.2 846.8h3v3h-3zM1121.1 846.8h3v3h-3zM1100.2 843.8h3v3h-3zM1124.1 843.8h3v3h-3zM1103.2 840.8h3v3h-3zM1127.1 840.8h3v3h-3zM1106.2 837.8h3v3h-3zM1130.1 837.8h3v3h-3zM1109.2 834.8h3v3h-3zM1133.1 834.8h3v3h-3zM1112.1 831.8h3v3h-3zM1136.1 831.8h3v3h-3zM1115.1 828.8h3v3h-3zM1139.1 828.8h3v3h-3zM1118.1 825.8h3v3h-3zM1142.1 825.8h3v3h-3zM1121.1 822.9h3v3h-3zM1124.1 819.9h3v3h-3zM1127.1 816.9h3v3h-3zM1130.1 813.9h3v3h-3zM1166 795.9h3v3h-3zM1169 792.9h3v3h-3zM1160 789.9h3v3h-3zM1172 789.9h3v3h-3zM1163 786.9h3v3h-3zM1175 786.9h3v3h-3zM1166 783.9h3v3h-3zM1178 783.9h6v3h-6zM1169 780.9h3v3h-3zM1181 780.9h3v3h-3zM1172 778h3v3h-3zM1172 775h6v3h-6zM1198.9 763h3v3h-3zM1201.9 760h6v3h-6zM1193 757h3v3h-3zM1204.9 757h6v3h-6zM1196 754h3v3h-3zM1207.9 754h3v3h-3zM1196 751h6v3h-6zM1210.9 751h3v3h-3zM1198.9 748h6v3h-6zM1204.9 745h3v3h-3zM1228.9 733.1h3v3h-3zM1231.9 730.1h6v3h-6zM821.8 727.1h3v3h-3zM1222.9 727.1h3v3h-3zM1234.9 727.1h3v3h-3zM824.8 724.1h3v3h-3zM1225.9 724.1h3v3h-3zM1234.9 724.1h6v3h-6zM827.8 721.1h3v3h-3zM1225.9 721.1h9v3h-9zM1240.9 721.1h6v3h-6zM830.8 718.1h3v3h-3zM1231.9 718.1h3v3h-3zM1243.8 718.1h6v3h-6zM821.8 715.1h3v3h-3zM1234.9 715.1h3v3h-3zM1246.8 715.1h6v3h-6zM824.8 712.1h3v3h-3zM1234.9 712.1h6v3h-6zM1249.8 712.1h3v3h-3zM827.8 709.1h3v3h-3zM1237.9 709.1h6v3h-6zM1252.8 709.1h3v3h-3zM830.8 706.1h3v3h-3zM1240.9 706.1h6v3h-6zM1255.8 706.1h6v3h-6zM1246.8 703.1h3v3h-3zM1258.8 703.1h3v3h-3zM1249.8 700.1h3v3h-3zM1261.8 700.1h3v3h-3zM1249.8 697.1h6v3h-6zM1255.8 694.1h3v3h-3zM1276.8 685.2h3v3h-3zM1279.8 682.2h3v3h-3zM1270.8 679.2h3v3h-3zM1282.8 679.2h3v3h-3zM1273.8 676.2h3v3h-3zM1285.8 676.2h3v3h-3zM1276.8 673.2h3v3h-3zM1288.7 673.2h3v3h-3zM1279.8 670.2h3v3h-3zM1294.7 670.2h3v3h-3zM1282.8 667.2h3v3h-3zM1294.7 667.2h3v3h-3zM1285.8 661.2h6v3h-6zM1324.7 640.3h3v3h-3zM1327.7 637.3h3v3h-3zM1327.7 634.3h3v3h-3zM1315.7 631.3h3v3h-3zM1330.6 631.3h3v3h-3zM1318.7 628.3h6v3h-6zM1324.7 625.3h3v3h-3zM1336.6 625.3h3v3h-3zM1339.6 622.3h3v3h-3zM1330.6 619.3h3v3h-3zM1342.6 619.3h3v3h-3zM1333.6 616.3h3v3h-3zM1336.6 613.3h3v3h-3zM1360.6 607.3h3v3h-3zM1363.6 604.3h3v3h-3zM1366.6 601.3h3v3h-3zM1369.6 598.3h3v3h-3zM1348.6 595.4h3v3h-3zM1372.6 595.4h3v3h-3zM1351.6 592.4h3v3h-3zM1375.5 592.4h3v3h-3zM1354.6 589.4h3v3h-3zM1378.5 589.4h3v3h-3zM1357.6 586.4h3v3h-3zM1381.5 586.4h3v3h-3zM1360.6 583.4h3v3h-3zM1384.5 583.4h3v3h-3zM1363.6 580.4h3v3h-3zM1387.5 580.4h3v3h-3zM1366.6 577.4h3v3h-3zM1390.5 577.4h3v3h-3zM1369.6 574.4h3v3h-3zM1393.5 574.4h3v3h-3zM1372.6 571.4h3v3h-3zM1375.5 568.4h3v3h-3zM1378.5 565.4h3v3h-3zM1381.5 562.4h3v3h-3zM1411.5 550.5h3v3h-3zM1405.5 544.5h3v3h-3zM1432.4 535.5h3v3h-3zM1435.4 532.5h3v3h-3zM1438.4 529.5h3v3h-3zM1441.4 526.5h3v3h-3zM1420.4 523.5h3v3h-3zM1444.4 523.5h3v3h-3zM1423.4 520.5h3v3h-3zM1447.4 520.5h3v3h-3zM1426.4 517.5h3v3h-3zM1450.4 517.5h3v3h-3zM1429.4 514.5h3v3h-3zM1453.4 514.5h3v3h-3zM1432.4 511.5h3v3h-3zM1456.4 511.5h3v3h-3zM1435.4 508.5h3v3h-3zM1438.4 505.6h3v3h-3zM1462.4 505.6h3v3h-3zM1441.4 502.6h3v3h-3zM1444.4 499.6h3v3h-3zM1450.4 493.6h3v3h-3zM1498.3 469.6h3v3h-3zM1501.3 466.6h3v3h-3zM1504.3 463.6h3v3h-3zM1507.3 460.6h3v3h-3zM1486.3 457.7h3v3h-3zM1510.2 457.7h3v3h-3zM1489.3 454.7h3v3h-3zM1513.2 454.7h3v3h-3zM1492.3 451.7h3v3h-3zM1516.2 451.7h3v3h-3zM1495.3 448.7h3v3h-3zM1519.2 448.7h3v3h-3zM1498.3 445.7h3v3h-3zM1522.2 445.7h3v3h-3zM1501.3 442.7h3v3h-3zM1525.2 442.7h3v3h-3zM1504.3 439.7h3v3h-3zM1528.2 439.7h6v3h-6zM1507.3 436.7h3v3h-3zM1510.2 433.7h3v3h-3zM1513.2 430.7h3v3h-3zM1516.2 427.7h3v3h-3zM1516.2 424.7h3v3h-3zM1561.1 403.8h3v3h-3zM1570.1 397.8h3v3h-3zM1552.1 394.8h3v3h-3zM1573.1 394.8h3v3h-3zM1576.1 391.8h3v3h-3zM1579.1 388.8h3v3h-3zM1558.1 385.8h3v3h-3zM1582.1 385.8h3v3h-3zM1561.1 382.8h3v3h-3zM1585.1 382.8h3v3h-3zM1564.1 379.8h3v3h-3zM1588.1 379.8h3v3h-3zM1567.1 376.8h3v3h-3zM1591.1 376.8h3v3h-3zM1570.1 373.8h3v3h-3zM1594.1 373.8h3v3h-3zM1758.7 373.8h3v3h-3zM1573.1 370.8h3v3h-3zM1597 370.8h3v3h-3zM1576.1 367.9h3v3h-3zM1600 367.9h3v3h-3zM1579.1 364.9h3v3h-3zM1603 364.9h3v3h-3zM1582.1 361.9h3v3h-3zM1606 361.9h3v3h-3zM1746.7 361.9h3v3h-3zM1585.1 358.9h3v3h-3zM1609 358.9h3v3h-3zM1588.1 355.9h3v3h-3zM1612 355.9h3v3h-3zM1591.1 352.9h3v3h-3zM1594.1 349.9h3v3h-3zM1597 346.9h3v3h-3zM1600 343.9h3v3h-3zM1618 343.9h6v3h-6zM1612 337.9h3v3h-3zM1624 337.9h6v3h-6zM1612 334.9h3v3h-3zM1627 334.9h3v3h-3zM1618 331.9h3v3h-3zM1618 328.9h6v3h-6zM1653.9 311h3v3h-3zM1653.9 308h3v3h-3zM1644.9 302h6v3h-6zM1686.8 281h3v3h-3zM1674.9 269.1h3v3h-3zM1695.8 269.1h3v3h-3zM1698.8 266.1h3v3h-3zM1698.8 263.1h6v3h-6zM1686.8 260.1h3v3h-3zM1701.8 260.1h3v3h-3zM1689.8 257.1h6v3h-6zM1692.8 254.1h6v3h-6zM1716.8 251.1h3v3h-3zM1719.8 248.1h3v3h-3zM1719.8 245.1h6v3h-6zM1704.8 239.1h3v3h-3zM1707.8 236.1h6v3h-6zM1710.8 233.1h3v3h-3zM1737.7 230.2h3v3h-3zM1740.7 227.2h3v3h-3zM1743.7 224.2h3v3h-3zM1746.7 221.2h3v3h-3zM1725.8 218.2h3v3h-3zM1749.7 218.2h3v3h-3zM1728.8 215.2h3v3h-3zM1752.7 215.2h3v3h-3zM1731.7 212.2h3v3h-3zM1755.7 212.2h3v3h-3zM1594.1 209.2h3v3h-3zM1734.7 209.2h3v3h-3zM1758.7 209.2h3v3h-3zM1737.7 206.2h3v3h-3zM1761.7 206.2h3v3h-3zM1740.7 203.2h3v3h-3zM1764.7 203.2h3v3h-3zM1743.7 200.2h3v3h-3zM1767.7 200.2h3v3h-3zM1582.1 197.2h3v3h-3zM1746.7 197.2h3v3h-3zM1770.7 197.2h3v3h-3zM1749.7 194.2h3v3h-3zM1773.6 194.2h3v3h-3zM1752.7 191.2h3v3h-3zM1776.6 191.2h3v3h-3zM1755.7 188.2h3v3h-3zM1758.7 185.3h3v3h-3zM1779.6 185.3h3v3h-3zM1761.7 182.3h3v3h-3zM1764.7 179.3h3v3h-3zM1770.7 176.3h3v3h-3zM1791.6 176.3h3v3h-3zM1794.6 173.3h3v3h-3zM1797.6 170.3h3v3h-3zM1800.6 167.3h3v3h-3zM1779.6 164.3h3v3h-3zM1800.6 164.3h3v3h-3zM1782.6 161.3h3v3h-3zM1785.6 158.3h3v3h-3zM1788.6 155.3h6v3h-6zM1830.5 134.4h3v3h-3zM1830.5 131.4h3v3h-3zM1821.5 125.4h6v3h-6z"/>
<path fill="#ff3a04" d="M1231.9 1134.2h9v3h-9zM1234.9 1131.2h9v3h-9zM1237.9 1128.2h9v3h-9zM1240.9 1125.2h9v3h-9zM821.8 724.1h3v3h-3zM821.8 721.1h6v3h-6zM821.8 718.1h9v3h-9zM824.8 715.1h9v3h-9zM827.8 712.1h6v3h-6zM830.8 709.1h3v3h-3z"/>
<path fill="#ff7a14" d="M205.2 1753.8h3v3h-3zM211.2 1753.8h3v3h-3zM202.2 1750.8h3v3h-3zM208.2 1750.8h3v3h-3zM214.2 1750.8h3v3h-3zM205.2 1747.8h3v3h-3zM211.2 1747.8h3v3h-3zM217.2 1747.8h3v3h-3zM202.2 1744.8h3v3h-3zM208.2 1744.8h3v3h-3zM214.2 1744.8h3v3h-3zM220.2 1744.8h3v3h-3zM205.2 1741.8h3v3h-3zM211.2 1741.8h3v3h-3zM217.2 1741.8h3v3h-3zM223.2 1741.8h3v3h-3zM208.2 1738.8h3v3h-3zM214.2 1738.8h3v3h-3zM220.2 1738.8h3v3h-3zM226.1 1738.8h3v3h-3zM211.2 1735.8h3v3h-3zM217.2 1735.8h3v3h-3zM223.2 1735.8h3v3h-3zM229.1 1735.8h3v3h-3zM214.2 1732.9h3v3h-3zM220.2 1732.9h3v3h-3zM226.1 1732.9h3v3h-3zM232.1 1732.9h3v3h-3zM217.2 1729.9h3v3h-3zM223.2 1729.9h3v3h-3zM229.1 1729.9h3v3h-3zM235.1 1729.9h3v3h-3zM220.2 1726.9h3v3h-3zM226.1 1726.9h3v3h-3zM232.1 1726.9h3v3h-3zM238.1 1726.9h3v3h-3zM223.2 1723.9h3v3h-3zM229.1 1723.9h3v3h-3zM235.1 1723.9h3v3h-3zM241.1 1723.9h3v3h-3zM226.1 1720.9h3v3h-3zM232.1 1720.9h3v3h-3zM238.1 1720.9h3v3h-3zM244.1 1720.9h3v3h-3zM229.1 1717.9h3v3h-3zM235.1 1717.9h3v3h-3zM241.1 1717.9h3v3h-3zM247.1 1717.9h3v3h-3zM232.1 1714.9h3v3h-3zM238.1 1714.9h3v3h-3zM244.1 1714.9h3v3h-3zM250.1 1714.9h3v3h-3zM235.1 1711.9h3v3h-3zM241.1 1711.9h3v3h-3zM247.1 1711.9h3v3h-3zM238.1 1708.9h3v3h-3zM244.1 1708.9h3v3h-3zM250.1 1708.9h3v3h-3zM241.1 1705.9h3v3h-3zM247.1 1705.9h3v3h-3zM253.1 1705.9h3v3h-3zM250.1 1702.9h3v3h-3zM256.1 1702.9h6v3h-6zM253.1 1699.9h3v3h-3zM259.1 1699.9h3v3h-3zM265.1 1699.9h3v3h-3zM253.1 1696.9h6v3h-6zM262.1 1696.9h3v3h-3zM268.1 1696.9h3v3h-3zM259.1 1693.9h3v3h-3zM265.1 1693.9h3v3h-3zM256.1 1690.9h3v3h-3zM262.1 1690.9h3v3h-3zM268.1 1690.9h3v3h-3zM259.1 1688h3v3h-3zM265.1 1688h3v3h-3zM271 1688h3v3h-3zM268.1 1685h3v3h-3zM274 1685h3v3h-3zM271 1682h3v3h-3zM277 1682h3v3h-3zM274 1679h3v3h-3zM280 1679h3v3h-3zM277 1676h3v3h-3zM283 1676h3v3h-3zM289 1676h3v3h-3zM280 1673h3v3h-3zM286 1673h3v3h-3zM283 1670h3v3h-3zM289 1670h3v3h-3zM280 1667h3v3h-3zM286 1667h3v3h-3zM292 1667h3v3h-3zM298 1667h3v3h-3zM289 1664h3v3h-3zM295 1664h3v3h-3zM301 1664h3v3h-3zM292 1661h3v3h-3zM298 1661h3v3h-3zM289 1658h3v3h-3zM295 1658h3v3h-3zM301 1658h3v3h-3zM292 1655h3v3h-3zM298 1655h3v3h-3zM304 1655h3v3h-3zM310 1655h3v3h-3zM301 1652h3v3h-3zM307 1652h3v3h-3zM312.9 1652h3v3h-3zM304 1649h3v3h-3zM310 1649h3v3h-3zM315.9 1649h3v3h-3zM301 1646h3v3h-3zM307 1646h3v3h-3zM312.9 1646h3v3h-3zM318.9 1646h3v3h-3zM304 1643.1h3v3h-3zM310 1643.1h3v3h-3zM315.9 1643.1h3v3h-3zM321.9 1643.1h3v3h-3zM307 1640.1h3v3h-3zM312.9 1640.1h3v3h-3zM318.9 1640.1h3v3h-3zM324.9 1640.1h3v3h-3zM310 1637.1h3v3h-3zM315.9 1637.1h3v3h-3zM321.9 1637.1h3v3h-3zM327.9 1637.1h3v3h-3zM312.9 1634.1h3v3h-3zM318.9 1634.1h3v3h-3zM324.9 1634.1h3v3h-3zM330.9 1634.1h3v3h-3zM315.9 1631.1h3v3h-3zM321.9 1631.1h3v3h-3zM327.9 1631.1h3v3h-3zM333.9 1631.1h3v3h-3zM318.9 1628.1h3v3h-3zM324.9 1628.1h3v3h-3zM330.9 1628.1h3v3h-3zM336.9 1628.1h3v3h-3zM321.9 1625.1h3v3h-3zM327.9 1625.1h3v3h-3zM333.9 1625.1h3v3h-3zM339.9 1625.1h3v3h-3zM324.9 1622.1h3v3h-3zM330.9 1622.1h3v3h-3zM336.9 1622.1h3v3h-3zM342.9 1622.1h3v3h-3zM327.9 1619.1h3v3h-3zM333.9 1619.1h3v3h-3zM339.9 1619.1h3v3h-3zM345.9 1619.1h3v3h-3zM330.9 1616.1h3v3h-3zM336.9 1616.1h3v3h-3zM342.9 1616.1h3v3h-3zM348.9 1616.1h3v3h-3zM333.9 1613.1h3v3h-3zM339.9 1613.1h3v3h-3zM345.9 1613.1h3v3h-3zM351.9 1613.1h3v3h-3zM336.9 1610.1h3v3h-3zM342.9 1610.1h3v3h-3zM348.9 1610.1h3v3h-3zM354.9 1610.1h3v3h-3zM339.9 1607.1h3v3h-3zM345.9 1607.1h3v3h-3zM351.9 1607.1h3v3h-3zM357.8 1607.1h3v3h-3zM342.9 1604.1h3v3h-3zM348.9 1604.1h3v3h-3zM354.9 1604.1h3v3h-3zM360.8 1604.1h3v3h-3zM345.9 1601.1h3v3h-3zM351.9 1601.1h3v3h-3zM357.8 1601.1h3v3h-3zM363.8 1601.1h3v3h-3zM348.9 1598.1h3v3h-3zM354.9 1598.1h3v3h-3zM360.8 1598.1h3v3h-3zM366.8 1598.1h3v3h-3zM351.9 1595.2h3v3h-3zM357.8 1595.2h3v3h-3zM363.8 1595.2h3v3h-3zM369.8 1595.2h3v3h-3zM354.9 1592.2h3v3h-3zM360.8 1592.2h3v3h-3zM366.8 1592.2h3v3h-3zM372.8 1592.2h3v3h-3zM357.8 1589.2h3v3h-3zM363.8 1589.2h3v3h-3zM369.8 1589.2h3v3h-3zM375.8 1589.2h3v3h-3zM360.8 1586.2h3v3h-3zM366.8 1586.2h3v3h-3zM372.8 1586.2h3v3h-3zM378.8 1586.2h3v3h-3zM363.8 1583.2h3v3h-3zM369.8 1583.2h3v3h-3zM375.8 1583.2h3v3h-3zM381.8 1583.2h3v3h-3zM366.8 1580.2h3v3h-3zM372.8 1580.2h3v3h-3zM378.8 1580.2h3v3h-3zM384.8 1580.2h3v3h-3zM369.8 1577.2h3v3h-3zM375.8 1577.2h3v3h-3zM381.8 1577.2h3v3h-3zM387.8 1577.2h3v3h-3zM372.8 1574.2h3v3h-3zM378.8 1574.2h3v3h-3zM384.8 1574.2h3v3h-3zM390.8 1574.2h3v3h-3zM375.8 1571.2h3v3h-3zM381.8 1571.2h3v3h-3zM387.8 1571.2h3v3h-3zM393.8 1571.2h3v3h-3zM378.8 1568.2h3v3h-3zM384.8 1568.2h3v3h-3zM390.8 1568.2h3v3h-3zM396.8 1568.2h3v3h-3zM381.8 1565.2h3v3h-3zM387.8 1565.2h3v3h-3zM393.8 1565.2h3v3h-3zM399.8 1565.2h3v3h-3zM384.8 1562.2h3v3h-3zM390.8 1562.2h3v3h-3zM396.8 1562.2h3v3h-3zM402.7 1562.2h3v3h-3zM387.8 1559.2h3v3h-3zM393.8 1559.2h3v3h-3zM399.8 1559.2h3v3h-3zM405.7 1559.2h3v3h-3zM390.8 1556.2h3v3h-3zM396.8 1556.2h3v3h-3zM402.7 1556.2h3v3h-3zM408.7 1556.2h3v3h-3zM393.8 1553.2h3v3h-3zM399.8 1553.2h3v3h-3zM405.7 1553.2h3v3h-3zM411.7 1553.2h3v3h-3zM396.8 1550.3h3v3h-3zM402.7 1550.3h3v3h-3zM408.7 1550.3h3v3h-3zM414.7 1550.3h3v3h-3zM399.8 1547.3h3v3h-3zM405.7 1547.3h3v3h-3zM411.7 1547.3h3v3h-3zM417.7 1547.3h3v3h-3zM402.7 1544.3h3v3h-3zM408.7 1544.3h3v3h-3zM414.7 1544.3h3v3h-3zM420.7 1544.3h3v3h-3zM405.7 1541.3h3v3h-3zM411.7 1541.3h3v3h-3zM417.7 1541.3h3v3h-3zM408.7 1538.3h3v3h-3zM414.7 1538.3h3v3h-3zM420.7 1538.3h3v3h-3zM426.7 1538.3h3v3h-3zM411.7 1535.3h3v3h-3zM417.7 1535.3h3v3h-3zM423.7 1535.3h3v3h-3zM429.7 1535.3h3v3h-3zM420.7 1532.3h3v3h-3zM426.7 1532.3h3v3h-3zM432.7 1532.3h3v3h-3zM417.7 1529.3h3v3h-3zM423.7 1529.3h3v3h-3zM429.7 1529.3h3v3h-3zM435.7 1529.3h3v3h-3zM420.7 1526.3h3v3h-3zM426.7 1526.3h3v3h-3zM432.7 1526.3h3v3h-3zM438.7 1526.3h3v3h-3zM423.7 1523.3h3v3h-3zM429.7 1523.3h3v3h-3zM435.7 1523.3h3v3h-3zM441.7 1523.3h3v3h-3zM426.7 1520.3h3v3h-3zM432.7 1520.3h3v3h-3zM438.7 1520.3h3v3h-3zM444.7 1520.3h3v3h-3zM429.7 1517.3h3v3h-3zM435.7 1517.3h3v3h-3zM441.7 1517.3h3v3h-3zM447.6 1517.3h3v3h-3zM432.7 1514.3h3v3h-3zM438.7 1514.3h3v3h-3zM444.7 1514.3h3v3h-3zM450.6 1514.3h3v3h-3zM435.7 1511.3h3v3h-3zM441.7 1511.3h3v3h-3zM447.6 1511.3h3v3h-3zM453.6 1511.3h3v3h-3zM438.7 1508.3h3v3h-3zM444.7 1508.3h3v3h-3zM450.6 1508.3h3v3h-3zM456.6 1508.3h3v3h-3zM441.7 1505.4h3v3h-3zM447.6 1505.4h3v3h-3zM453.6 1505.4h3v3h-3zM459.6 1505.4h3v3h-3zM444.7 1502.4h3v3h-3zM450.6 1502.4h3v3h-3zM456.6 1502.4h3v3h-3zM462.6 1502.4h3v3h-3zM447.6 1499.4h3v3h-3zM453.6 1499.4h3v3h-3zM459.6 1499.4h3v3h-3zM465.6 1499.4h3v3h-3zM450.6 1496.4h3v3h-3zM456.6 1496.4h3v3h-3zM462.6 1496.4h3v3h-3zM468.6 1496.4h3v3h-3zM453.6 1493.4h3v3h-3zM459.6 1493.4h3v3h-3zM465.6 1493.4h3v3h-3zM471.6 1493.4h3v3h-3zM456.6 1490.4h3v3h-3zM462.6 1490.4h3v3h-3zM468.6 1490.4h3v3h-3zM474.6 1490.4h3v3h-3zM459.6 1487.4h3v3h-3zM465.6 1487.4h3v3h-3zM471.6 1487.4h3v3h-3zM477.6 1487.4h3v3h-3zM462.6 1484.4h3v3h-3zM468.6 1484.4h3v3h-3zM474.6 1484.4h3v3h-3zM480.6 1484.4h3v3h-3zM465.6 1481.4h3v3h-3zM471.6 1481.4h3v3h-3zM477.6 1481.4h3v3h-3zM483.6 1481.4h3v3h-3zM468.6 1478.4h3v3h-3zM474.6 1478.4h3v3h-3zM480.6 1478.4h3v3h-3zM486.6 1478.4h3v3h-3zM471.6 1475.4h3v3h-3zM477.6 1475.4h3v3h-3zM483.6 1475.4h3v3h-3zM489.6 1475.4h3v3h-3zM474.6 1472.4h3v3h-3zM480.6 1472.4h3v3h-3zM486.6 1472.4h3v3h-3zM492.5 1472.4h3v3h-3zM477.6 1469.4h3v3h-3zM483.6 1469.4h3v3h-3zM489.6 1469.4h3v3h-3zM495.5 1469.4h3v3h-3zM480.6 1466.4h3v3h-3zM486.6 1466.4h3v3h-3zM492.5 1466.4h3v3h-3zM498.5 1466.4h3v3h-3zM483.6 1463.4h3v3h-3zM489.6 1463.4h3v3h-3zM495.5 1463.4h3v3h-3zM501.5 1463.4h3v3h-3zM486.6 1460.5h3v3h-3zM492.5 1460.5h3v3h-3zM498.5 1460.5h3v3h-3zM504.5 1460.5h3v3h-3zM489.6 1457.5h3v3h-3zM495.5 1457.5h3v3h-3zM501.5 1457.5h3v3h-3zM507.5 1457.5h3v3h-3zM492.5 1454.5h3v3h-3zM498.5 1454.5h3v3h-3zM504.5 1454.5h3v3h-3zM510.5 1454.5h3v3h-3zM495.5 1451.5h3v3h-3zM501.5 1451.5h3v3h-3zM507.5 1451.5h3v3h-3zM513.5 1451.5h3v3h-3zM498.5 1448.5h3v3h-3zM504.5 1448.5h3v3h-3zM510.5 1448.5h3v3h-3zM501.5 1445.5h3v3h-3zM507.5 1445.5h3v3h-3zM513.5 1445.5h3v3h-3zM519.5 1445.5h3v3h-3zM504.5 1442.5h3v3h-3zM510.5 1442.5h3v3h-3zM516.5 1442.5h3v3h-3zM522.5 1442.5h3v3h-3zM513.5 1439.5h3v3h-3zM519.5 1439.5h3v3h-3zM525.5 1439.5h3v3h-3zM510.5 1436.5h3v3h-3zM516.5 1436.5h3v3h-3zM522.5 1436.5h3v3h-3zM528.5 1436.5h3v3h-3zM513.5 1433.5h3v3h-3zM519.5 1433.5h3v3h-3zM525.5 1433.5h3v3h-3zM516.5 1430.5h3v3h-3zM522.5 1430.5h3v3h-3zM528.5 1430.5h3v3h-3zM534.4 1430.5h3v3h-3zM519.5 1427.5h3v3h-3zM525.5 1427.5h3v3h-3zM531.5 1427.5h6v3h-6zM528.5 1424.5h3v3h-3zM534.4 1424.5h3v3h-3zM540.4 1424.5h3v3h-3zM525.5 1421.5h9v3h-9zM537.4 1421.5h6v3h-6zM534.4 1418.5h3v3h-3zM540.4 1418.5h3v3h-3zM531.5 1415.6h9v3h-9zM543.4 1415.6h3v3h-3zM540.4 1412.6h3v3h-3zM546.4 1412.6h3v3h-3zM552.4 1412.6h3v3h-3zM543.4 1409.6h3v3h-3zM549.4 1409.6h6v3h-6zM546.4 1406.6h3v3h-3zM552.4 1406.6h3v3h-3zM543.4 1403.6h9v3h-9zM555.4 1403.6h3v3h-3zM561.4 1403.6h3v3h-3zM552.4 1400.6h3v3h-3zM558.4 1400.6h3v3h-3zM564.4 1400.6h3v3h-3zM555.4 1397.6h3v3h-3zM561.4 1397.6h3v3h-3zM567.4 1397.6h3v3h-3zM552.4 1394.6h3v3h-3zM558.4 1394.6h3v3h-3zM564.4 1394.6h9v3h-9zM555.4 1391.6h3v3h-3zM561.4 1391.6h3v3h-3zM567.4 1391.6h9v3h-9zM558.4 1388.6h9v3h-9zM570.4 1388.6h6v3h-6zM561.4 1385.6h9v3h-9zM573.4 1385.6h9v3h-9zM564.4 1382.6h9v3h-9zM576.4 1382.6h6v3h-6zM570.4 1379.6h6v3h-6zM579.3 1379.6h3v3h-3zM570.4 1376.6h9v3h-9zM582.3 1376.6h3v3h-3zM588.3 1376.6h3v3h-3zM579.3 1373.6h3v3h-3zM585.3 1373.6h9v3h-9zM582.3 1370.6h3v3h-3zM588.3 1370.6h3v3h-3zM579.3 1367.7h9v3h-9zM591.3 1367.7h3v3h-3zM597.3 1367.7h3v3h-3zM582.3 1364.7h3v3h-3zM588.3 1364.7h3v3h-3zM594.3 1364.7h3v3h-3zM591.3 1361.7h3v3h-3zM597.3 1361.7h3v3h-3zM588.3 1358.7h3v3h-3zM594.3 1358.7h3v3h-3zM600.3 1358.7h3v3h-3zM597.3 1355.7h3v3h-3zM603.3 1355.7h3v3h-3zM600.3 1352.7h3v3h-3zM606.3 1352.7h3v3h-3zM612.3 1352.7h3v3h-3zM603.3 1349.7h3v3h-3zM609.3 1349.7h6v3h-6zM606.3 1346.7h3v3h-3zM612.3 1346.7h3v3h-3zM603.3 1343.7h9v3h-9zM615.3 1343.7h3v3h-3zM612.3 1340.7h3v3h-3zM618.3 1340.7h3v3h-3zM624.2 1340.7h3v3h-3zM615.3 1337.7h3v3h-3zM621.3 1337.7h3v3h-3zM627.2 1337.7h3v3h-3zM618.3 1334.7h3v3h-3zM624.2 1334.7h3v3h-3zM630.2 1334.7h3v3h-3zM615.3 1331.7h3v3h-3zM621.3 1331.7h3v3h-3zM627.2 1331.7h3v3h-3zM633.2 1331.7h3v3h-3zM618.3 1328.7h3v3h-3zM624.2 1328.7h3v3h-3zM630.2 1328.7h3v3h-3zM636.2 1328.7h3v3h-3zM621.3 1325.7h3v3h-3zM627.2 1325.7h3v3h-3zM633.2 1325.7h3v3h-3zM639.2 1325.7h3v3h-3zM624.2 1322.8h3v3h-3zM630.2 1322.8h3v3h-3zM636.2 1322.8h3v3h-3zM642.2 1322.8h3v3h-3zM627.2 1319.8h3v3h-3zM633.2 1319.8h3v3h-3zM639.2 1319.8h3v3h-3zM645.2 1319.8h3v3h-3zM630.2 1316.8h3v3h-3zM636.2 1316.8h3v3h-3zM642.2 1316.8h3v3h-3zM648.2 1316.8h3v3h-3zM633.2 1313.8h3v3h-3zM639.2 1313.8h3v3h-3zM645.2 1313.8h3v3h-3zM651.2 1313.8h3v3h-3zM636.2 1310.8h3v3h-3zM642.2 1310.8h3v3h-3zM648.2 1310.8h3v3h-3zM639.2 1307.8h3v3h-3zM645.2 1307.8h3v3h-3zM651.2 1307.8h3v3h-3zM642.2 1304.8h3v3h-3zM648.2 1304.8h3v3h-3zM654.2 1304.8h3v3h-3zM660.2 1304.8h3v3h-3zM651.2 1301.8h3v3h-3zM657.2 1301.8h3v3h-3zM663.2 1301.8h3v3h-3zM654.2 1298.8h3v3h-3zM660.2 1298.8h3v3h-3zM666.2 1298.8h3v3h-3zM651.2 1295.8h3v3h-3zM657.2 1295.8h3v3h-3zM663.2 1295.8h3v3h-3zM654.2 1292.8h3v3h-3zM660.2 1292.8h3v3h-3zM666.2 1292.8h3v3h-3zM672.1 1292.8h3v3h-3zM657.2 1289.8h3v3h-3zM663.2 1289.8h3v3h-3zM669.1 1289.8h3v3h-3zM675.1 1289.8h3v3h-3zM666.2 1286.8h3v3h-3zM672.1 1286.8h3v3h-3zM678.1 1286.8h3v3h-3zM663.2 1283.8h3v3h-3zM669.1 1283.8h3v3h-3zM675.1 1283.8h3v3h-3zM681.1 1283.8h3v3h-3zM666.2 1280.8h3v3h-3zM672.1 1280.8h3v3h-3zM678.1 1280.8h3v3h-3zM684.1 1280.8h3v3h-3zM669.1 1277.9h3v3h-3zM675.1 1277.9h3v3h-3zM681.1 1277.9h3v3h-3zM687.1 1277.9h3v3h-3zM672.1 1274.9h3v3h-3zM678.1 1274.9h3v3h-3zM684.1 1274.9h3v3h-3zM690.1 1274.9h3v3h-3zM675.1 1271.9h3v3h-3zM681.1 1271.9h3v3h-3zM687.1 1271.9h3v3h-3zM693.1 1271.9h3v3h-3zM678.1 1268.9h3v3h-3zM684.1 1268.9h3v3h-3zM690.1 1268.9h3v3h-3zM696.1 1268.9h3v3h-3zM681.1 1265.9h3v3h-3zM687.1 1265.9h3v3h-3zM693.1 1265.9h3v3h-3zM699.1 1265.9h3v3h-3zM684.1 1262.9h3v3h-3zM690.1 1262.9h3v3h-3zM696.1 1262.9h3v3h-3zM702.1 1262.9h3v3h-3zM687.1 1259.9h3v3h-3zM693.1 1259.9h3v3h-3zM699.1 1259.9h3v3h-3zM705.1 1259.9h3v3h-3zM690.1 1256.9h3v3h-3zM696.1 1256.9h3v3h-3zM702.1 1256.9h3v3h-3zM708.1 1256.9h3v3h-3zM693.1 1253.9h3v3h-3zM699.1 1253.9h3v3h-3zM705.1 1253.9h3v3h-3zM711.1 1253.9h3v3h-3zM696.1 1250.9h3v3h-3zM702.1 1250.9h3v3h-3zM708.1 1250.9h3v3h-3zM714 1250.9h3v3h-3zM699.1 1247.9h3v3h-3zM705.1 1247.9h3v3h-3zM711.1 1247.9h3v3h-3zM717 1247.9h3v3h-3zM702.1 1244.9h3v3h-3zM708.1 1244.9h3v3h-3zM714 1244.9h3v3h-3zM720 1244.9h3v3h-3zM705.1 1241.9h3v3h-3zM711.1 1241.9h3v3h-3zM717 1241.9h3v3h-3zM723 1241.9h3v3h-3zM708.1 1238.9h3v3h-3zM714 1238.9h3v3h-3zM720 1238.9h3v3h-3zM726 1238.9h3v3h-3zM711.1 1235.9h3v3h-3zM717 1235.9h3v3h-3zM723 1235.9h3v3h-3zM729 1235.9h3v3h-3zM714 1233h3v3h-3zM720 1233h3v3h-3zM726 1233h3v3h-3zM732 1233h3v3h-3zM717 1230h3v3h-3zM723 1230h3v3h-3zM729 1230h3v3h-3zM735 1230h6v3h-6zM720 1227h3v3h-3zM726 1227h3v3h-3zM732 1227h3v3h-3zM723 1224h3v3h-3zM729 1224h3v3h-3zM735 1224h3v3h-3zM726 1221h3v3h-3zM732 1221h3v3h-3zM738 1221h9v3h-9zM726 1218h3v3h-3zM735 1218h3v3h-3zM741 1218h6v3h-6zM735 1215h6v3h-6zM744 1215h3v3h-3zM735 1212h9v3h-9zM750 1209h9v3h-9zM747 1206h3v3h-3zM753 1206h3v3h-3zM747 1203h6v3h-6zM755.9 1203h3v3h-3zM747 1200h3v3h-3zM753 1200h3v3h-3zM761.9 1197h9v3h-9zM758.9 1194h3v3h-3zM764.9 1194h9v3h-9zM758.9 1191h6v3h-6zM767.9 1191h6v3h-6zM758.9 1188.1h9v3h-9zM770.9 1188.1h3v3h-3zM761.9 1185.1h9v3h-9zM773.9 1185.1h3v3h-3zM770.9 1182.1h3v3h-3zM776.9 1182.1h3v3h-3zM773.9 1179.1h3v3h-3zM779.9 1179.1h6v3h-6zM776.9 1176.1h3v3h-3zM782.9 1176.1h3v3h-3zM776.9 1173.1h6v3h-6zM785.9 1173.1h3v3h-3zM782.9 1170.1h3v3h-3zM788.9 1170.1h3v3h-3zM785.9 1167.1h3v3h-3zM791.9 1167.1h6v3h-6zM788.9 1164.1h3v3h-3zM794.9 1164.1h3v3h-3zM788.9 1161.1h6v3h-6zM797.9 1161.1h3v3h-3zM794.9 1158.1h3v3h-3zM800.8 1158.1h6v3h-6zM797.9 1155.1h3v3h-3zM803.8 1155.1h3v3h-3zM797.9 1152.1h6v3h-6zM806.8 1152.1h3v3h-3zM803.8 1149.1h3v3h-3zM809.8 1149.1h3v3h-3zM815.8 1149.1h3v3h-3zM806.8 1146.1h3v3h-3zM812.8 1146.1h9v3h-9zM809.8 1143.1h3v3h-3zM815.8 1143.1h3v3h-3zM806.8 1140.2h9v3h-9zM818.8 1140.2h3v3h-3zM809.8 1137.2h3v3h-3zM815.8 1137.2h3v3h-3zM821.8 1137.2h3v3h-3zM818.8 1134.2h3v3h-3zM824.8 1134.2h3v3h-3zM821.8 1131.2h3v3h-3zM827.8 1131.2h3v3h-3zM824.8 1128.2h3v3h-3zM830.8 1128.2h3v3h-3zM827.8 1125.2h3v3h-3zM833.8 1125.2h3v3h-3zM830.8 1122.2h3v3h-3zM836.8 1122.2h3v3h-3zM1240.9 1122.2h15v3h-15zM833.8 1119.2h3v3h-3zM839.8 1119.2h3v3h-3zM1243.8 1119.2h12v3h-12zM836.8 1116.2h3v3h-3zM842.8 1116.2h3v3h-3zM1246.8 1116.2h9v3h-9zM839.8 1113.2h3v3h-3zM845.7 1113.2h3v3h-3zM842.8 1110.2h3v3h-3zM848.7 1110.2h6v3h-6zM845.7 1107.2h3v3h-3zM851.7 1107.2h3v3h-3zM845.7 1104.2h6v3h-6zM854.7 1104.2h3v3h-3zM851.7 1101.2h3v3h-3zM857.7 1101.2h6v3h-6zM854.7 1098.2h3v3h-3zM860.7 1098.2h3v3h-3zM854.7 1095.3h6v3h-6zM863.7 1095.3h3v3h-3zM860.7 1092.3h3v3h-3zM866.7 1092.3h3v3h-3zM863.7 1089.3h3v3h-3zM869.7 1089.3h3v3h-3zM866.7 1086.3h3v3h-3zM872.7 1086.3h3v3h-3zM869.7 1083.3h3v3h-3zM875.7 1083.3h3v3h-3zM872.7 1080.3h3v3h-3zM878.7 1080.3h3v3h-3zM875.7 1077.3h3v3h-3zM881.7 1077.3h3v3h-3zM878.7 1074.3h3v3h-3zM884.7 1074.3h3v3h-3zM881.7 1071.3h3v3h-3zM887.7 1071.3h3v3h-3zM884.7 1068.3h3v3h-3zM893.6 1065.3h3v3h-3zM890.6 1062.3h3v3h-3zM896.6 1062.3h3v3h-3zM902.6 1062.3h3v3h-3zM893.6 1059.3h3v3h-3zM899.6 1059.3h6v3h-6zM896.6 1056.3h3v3h-3zM902.6 1056.3h3v3h-3zM893.6 1053.3h9v3h-9zM908.6 1050.4h3v3h-3zM905.6 1047.4h3v3h-3zM911.6 1047.4h3v3h-3zM908.6 1044.4h3v3h-3zM914.6 1044.4h6v3h-6zM911.6 1041.4h3v3h-3zM917.6 1041.4h6v3h-6zM911.6 1038.4h6v3h-6zM920.6 1038.4h3v3h-3zM914.6 1035.4h6v3h-6zM923.6 1035.4h3v3h-3zM920.6 1032.4h3v3h-3zM926.6 1032.4h3v3h-3zM923.6 1029.4h3v3h-3zM929.6 1029.4h3v3h-3zM926.6 1026.4h3v3h-3zM932.5 1026.4h3v3h-3zM929.6 1023.4h3v3h-3zM935.5 1023.4h3v3h-3zM932.5 1020.4h3v3h-3zM938.5 1020.4h6v3h-6zM935.5 1017.4h3v3h-3zM941.5 1017.4h3v3h-3zM935.5 1014.4h6v3h-6zM944.5 1014.4h3v3h-3zM941.5 1011.4h3v3h-3zM947.5 1011.4h3v3h-3zM944.5 1008.4h3v3h-3zM950.5 1008.4h9v3h-9zM947.5 1005.5h3v3h-3zM953.5 1005.5h3v3h-3zM947.5 1002.5h6v3h-6zM956.5 1002.5h3v3h-3zM947.5 999.5h3v3h-3zM953.5 999.5h3v3h-3zM959.5 999.5h3v3h-3zM956.5 996.5h3v3h-3zM962.5 996.5h3v3h-3zM959.5 993.5h3v3h-3zM965.5 993.5h3v3h-3zM962.5 990.5h3v3h-3zM968.5 990.5h3v3h-3zM965.5 987.5h3v3h-3zM971.5 987.5h3v3h-3zM968.5 984.5h3v3h-3zM974.5 984.5h6v3h-6zM971.5 981.5h3v3h-3zM977.4 981.5h3v3h-3zM971.5 978.5h6v3h-6zM980.4 978.5h3v3h-3zM977.4 975.5h3v3h-3zM983.4 975.5h6v3h-6zM980.4 972.5h3v3h-3zM986.4 972.5h6v3h-6zM980.4 969.5h6v3h-6zM983.4 966.5h3v3h-3zM992.4 966.5h3v3h-3zM989.4 963.5h3v3h-3zM995.4 963.5h3v3h-3zM1001.4 963.5h3v3h-3zM992.4 960.6h3v3h-3zM998.4 960.6h3v3h-3zM1004.4 960.6h3v3h-3zM995.4 957.6h3v3h-3zM1001.4 957.6h3v3h-3zM1007.4 957.6h3v3h-3zM992.4 954.6h3v3h-3zM998.4 954.6h3v3h-3zM1004.4 954.6h3v3h-3zM1010.4 954.6h3v3h-3zM995.4 951.6h3v3h-3zM1001.4 951.6h3v3h-3zM1007.4 951.6h3v3h-3zM1013.4 951.6h3v3h-3zM998.4 948.6h3v3h-3zM1004.4 948.6h3v3h-3zM1010.4 948.6h3v3h-3zM1016.4 948.6h3v3h-3zM1001.4 945.6h3v3h-3zM1007.4 945.6h3v3h-3zM1013.4 945.6h3v3h-3zM1004.4 942.6h3v3h-3zM1010.4 942.6h3v3h-3zM1016.4 942.6h6v3h-6zM1007.4 939.6h3v3h-3zM1013.4 939.6h3v3h-3zM1019.4 939.6h3v3h-3zM1013.4 936.6h6v3h-6zM1022.3 936.6h3v3h-3zM1019.4 933.6h3v3h-3zM1025.3 933.6h3v3h-3zM1022.3 930.6h3v3h-3zM1028.3 930.6h3v3h-3zM1025.3 927.6h3v3h-3zM1031.3 927.6h3v3h-3zM1028.3 924.6h3v3h-3zM1034.3 924.6h3v3h-3zM1031.3 921.6h3v3h-3zM1037.3 921.6h3v3h-3zM1034.3 918.6h3v3h-3zM1040.3 918.6h3v3h-3zM1037.3 915.6h3v3h-3zM1043.3 915.6h3v3h-3zM1049.3 915.6h3v3h-3zM1040.3 912.7h3v3h-3zM1046.3 912.7h3v3h-3zM1043.3 909.7h3v3h-3zM1049.3 909.7h3v3h-3zM1055.3 909.7h3v3h-3zM1040.3 906.7h3v3h-3zM1046.3 906.7h3v3h-3zM1058.3 906.7h3v3h-3zM1055.3 903.7h3v3h-3zM1046.3 900.7h3v3h-3zM1052.3 900.7h3v3h-3zM1049.3 897.7h3v3h-3zM1067.2 897.7h3v3h-3zM1064.3 894.7h6v3h-6zM1061.3 891.7h3v3h-3zM1067.2 891.7h3v3h-3zM1058.3 888.7h9v3h-9zM1073.2 885.7h6v3h-6zM1070.2 882.7h3v3h-3zM1076.2 882.7h3v3h-3zM1070.2 879.7h6v3h-6zM1079.2 879.7h9v3h-9zM1076.2 876.7h3v3h-3zM1082.2 876.7h3v3h-3zM1076.2 873.7h6v3h-6zM1085.2 873.7h3v3h-3zM1097.2 873.7h3v3h-3zM1076.2 870.7h3v3h-3zM1082.2 870.7h3v3h-3zM1097.2 870.7h3v3h-3zM1097.2 867.8h3v3h-3zM1094.2 864.8h3v3h-3zM1100.2 864.8h3v3h-3zM1091.2 861.8h3v3h-3zM1097.2 861.8h3v3h-3zM1103.2 861.8h3v3h-3zM1082.2 858.8h9v3h-9zM1094.2 858.8h3v3h-3zM1100.2 858.8h3v3h-3zM1106.2 858.8h3v3h-3zM1091.2 855.8h3v3h-3zM1097.2 855.8h3v3h-3zM1103.2 855.8h3v3h-3zM1109.2 855.8h3v3h-3zM1094.2 852.8h3v3h-3zM1100.2 852.8h3v3h-3zM1106.2 852.8h3v3h-3zM1112.1 852.8h3v3h-3zM1097.2 849.8h3v3h-3zM1103.2 849.8h3v3h-3zM1109.2 849.8h3v3h-3zM1115.1 849.8h3v3h-3zM1100.2 846.8h3v3h-3zM1106.2 846.8h3v3h-3zM1112.1 846.8h3v3h-3zM1118.1 846.8h3v3h-3zM1103.2 843.8h3v3h-3zM1109.2 843.8h3v3h-3zM1115.1 843.8h3v3h-3zM1121.1 843.8h3v3h-3zM1106.2 840.8h3v3h-3zM1112.1 840.8h3v3h-3zM1118.1 840.8h3v3h-3zM1124.1 840.8h3v3h-3zM1109.2 837.8h3v3h-3zM1115.1 837.8h3v3h-3zM1121.1 837.8h3v3h-3zM1127.1 837.8h3v3h-3zM1112.1 834.8h3v3h-3zM1118.1 834.8h3v3h-3zM1124.1 834.8h3v3h-3zM1130.1 834.8h3v3h-3zM1115.1 831.8h3v3h-3zM1121.1 831.8h3v3h-3zM1127.1 831.8h3v3h-3zM1133.1 831.8h3v3h-3zM1118.1 828.8h3v3h-3zM1124.1 828.8h3v3h-3zM1130.1 828.8h3v3h-3zM1136.1 828.8h3v3h-3zM1121.1 825.8h3v3h-3zM1127.1 825.8h3v3h-3zM1133.1 825.8h3v3h-3zM1139.1 825.8h3v3h-3zM1124.1 822.9h3v3h-3zM1130.1 822.9h3v3h-3zM1136.1 822.9h3v3h-3zM1127.1 819.9h3v3h-3zM1133.1 819.9h3v3h-3zM1139.1 819.9h3v3h-3zM1130.1 816.9h3v3h-3zM1136.1 816.9h3v3h-3zM1142.1 816.9h3v3h-3zM1139.1 813.9h3v3h-3zM1145.1 813.9h9v3h-9zM1142.1 810.9h3v3h-3zM1148.1 810.9h3v3h-3zM1142.1 807.9h6v3h-6zM1151.1 807.9h3v3h-3zM1142.1 804.9h3v3h-3zM1148.1 804.9h3v3h-3zM1154 804.9h3v3h-3zM1151.1 801.9h3v3h-3zM1157 801.9h9v3h-9zM1154 798.9h3v3h-3zM1160 798.9h6v3h-6zM1154 795.9h6v3h-6zM1163 795.9h3v3h-3zM1154 792.9h9v3h-9zM1166 792.9h3v3h-3zM1163 789.9h3v3h-3zM1169 789.9h3v3h-3zM1166 786.9h3v3h-3zM1172 786.9h3v3h-3zM1169 783.9h3v3h-3zM1175 783.9h3v3h-3zM1172 780.9h3v3h-3zM1178 780.9h3v3h-3zM1175 778h3v3h-3zM1181 778h3v3h-3zM1178 775h3v3h-3zM1184 775h3v3h-3zM1181 772h3v3h-3zM1190 769h3v3h-3zM1187 766h3v3h-3zM1193 766h3v3h-3zM1190 763h3v3h-3zM1196 763h3v3h-3zM1193 760h3v3h-3zM1198.9 760h3v3h-3zM1196 757h3v3h-3zM1201.9 757h3v3h-3zM1198.9 754h3v3h-3zM1204.9 754h3v3h-3zM1201.9 751h3v3h-3zM1207.9 751h3v3h-3zM1204.9 748h3v3h-3zM1210.9 748h6v3h-6zM1207.9 745h3v3h-3zM1213.9 745h3v3h-3zM1207.9 742h6v3h-6zM1219.9 739h3v3h-3zM1216.9 736h3v3h-3zM1222.9 736h6v3h-6zM1219.9 733.1h3v3h-3zM1225.9 733.1h3v3h-3zM1219.9 730.1h6v3h-6zM1228.9 730.1h3v3h-3zM1225.9 727.1h3v3h-3zM1231.9 727.1h3v3h-3zM1228.9 724.1h3v3h-3zM1237.9 721.1h3v3h-3zM1234.9 718.1h3v3h-3zM1240.9 718.1h3v3h-3zM833.8 715.1h3v3h-3zM1237.9 715.1h3v3h-3zM1243.8 715.1h3v3h-3zM833.8 712.1h6v3h-6zM1240.9 712.1h3v3h-3zM1246.8 712.1h3v3h-3zM833.8 709.1h9v3h-9zM1243.8 709.1h3v3h-3zM1249.8 709.1h3v3h-3zM833.8 706.1h9v3h-9zM1246.8 706.1h3v3h-3zM1252.8 706.1h3v3h-3zM833.8 703.1h9v3h-9zM1249.8 703.1h3v3h-3zM1255.8 703.1h3v3h-3zM1252.8 700.1h3v3h-3zM1258.8 700.1h3v3h-3zM1255.8 697.1h3v3h-3zM1261.8 697.1h3v3h-3zM1258.8 694.1h3v3h-3zM1270.8 691.1h3v3h-3zM1270.8 688.1h6v3h-6zM1264.8 685.2h6v3h-6zM1273.8 685.2h3v3h-3zM1267.8 682.2h6v3h-6zM1276.8 682.2h3v3h-3zM1273.8 679.2h3v3h-3zM1279.8 679.2h3v3h-3zM1276.8 676.2h3v3h-3zM1282.8 676.2h3v3h-3zM1279.8 673.2h3v3h-3zM1285.8 673.2h3v3h-3zM1282.8 670.2h3v3h-3zM1288.7 670.2h6v3h-6zM1285.8 667.2h3v3h-3zM1291.7 667.2h3v3h-3zM1285.8 664.2h6v3h-6zM1294.7 664.2h6v3h-6zM1291.7 661.2h3v3h-3zM1297.7 661.2h6v3h-6zM1291.7 658.2h6v3h-6zM1300.7 658.2h9v3h-9zM1294.7 655.2h6v3h-6zM1303.7 655.2h6v3h-6zM1297.7 652.2h6v3h-6zM1306.7 652.2h3v3h-3zM1297.7 649.2h9v3h-9zM1309.7 649.2h3v3h-3zM1306.7 646.2h3v3h-3zM1312.7 646.2h3v3h-3zM1309.7 643.2h3v3h-3zM1318.7 640.3h6v3h-6zM1315.7 637.3h3v3h-3zM1321.7 637.3h6v3h-6zM1315.7 634.3h6v3h-6zM1324.7 634.3h3v3h-3zM1318.7 631.3h6v3h-6zM1327.7 631.3h3v3h-3zM1324.7 628.3h3v3h-3zM1330.6 628.3h6v3h-6zM1327.7 625.3h3v3h-3zM1333.6 625.3h3v3h-3zM1327.7 622.3h6v3h-6zM1336.6 622.3h3v3h-3zM1333.6 619.3h3v3h-3zM1339.6 619.3h3v3h-3zM1336.6 616.3h3v3h-3zM1342.6 616.3h6v3h-6zM1339.6 613.3h3v3h-3zM1345.6 613.3h9v3h-9zM1339.6 610.3h6v3h-6zM1348.6 610.3h3v3h-3zM1354.6 610.3h6v3h-6zM1342.6 607.3h6v3h-6zM1351.6 607.3h3v3h-3zM1357.6 607.3h3v3h-3zM1342.6 604.3h3v3h-3zM1348.6 604.3h3v3h-3zM1354.6 604.3h3v3h-3zM1360.6 604.3h3v3h-3zM1345.6 601.3h3v3h-3zM1351.6 601.3h3v3h-3zM1357.6 601.3h3v3h-3zM1363.6 601.3h3v3h-3zM1345.6 598.3h6v3h-6zM1354.6 598.3h3v3h-3zM1360.6 598.3h3v3h-3zM1366.6 598.3h3v3h-3zM1351.6 595.4h3v3h-3zM1357.6 595.4h3v3h-3zM1363.6 595.4h3v3h-3zM1369.6 595.4h3v3h-3zM1354.6 592.4h3v3h-3zM1360.6 592.4h3v3h-3zM1366.6 592.4h3v3h-3zM1372.6 592.4h3v3h-3zM1357.6 589.4h3v3h-3zM1363.6 589.4h3v3h-3zM1369.6 589.4h3v3h-3zM1375.5 589.4h3v3h-3zM1360.6 586.4h3v3h-3zM1366.6 586.4h3v3h-3zM1372.6 586.4h3v3h-3zM1378.5 586.4h3v3h-3zM1363.6 583.4h3v3h-3zM1369.6 583.4h3v3h-3zM1375.5 583.4h3v3h-3zM1381.5 583.4h3v3h-3zM1366.6 580.4h3v3h-3zM1372.6 580.4h3v3h-3zM1384.5 580.4h3v3h-3zM1369.6 577.4h3v3h-3zM1381.5 577.4h3v3h-3zM1387.5 577.4h3v3h-3zM1372.6 574.4h3v3h-3zM1378.5 574.4h3v3h-3zM1384.5 574.4h3v3h-3zM1390.5 574.4h3v3h-3zM1375.5 571.4h3v3h-3zM1381.5 571.4h3v3h-3zM1387.5 571.4h3v3h-3zM1393.5 571.4h6v3h-6zM1378.5 568.4h3v3h-3zM1384.5 568.4h3v3h-3zM1390.5 568.4h3v3h-3zM1381.5 565.4h3v3h-3zM1387.5 565.4h3v3h-3zM1393.5 565.4h3v3h-3zM1399.5 565.4h3v3h-3zM1384.5 562.4h3v3h-3zM1390.5 562.4h3v3h-3zM1396.5 562.4h6v3h-6zM1384.5 559.4h3v3h-3zM1393.5 559.4h3v3h-3zM1399.5 559.4h3v3h-3zM1390.5 556.4h9v3h-9zM1402.5 556.4h3v3h-3zM1399.5 553.4h3v3h-3zM1405.5 553.4h6v3h-6zM1402.5 550.5h3v3h-3zM1408.5 550.5h3v3h-3zM1402.5 547.5h6v3h-6zM1411.5 547.5h6v3h-6zM1423.4 547.5h3v3h-3zM1408.5 544.5h3v3h-3zM1414.5 544.5h3v3h-3zM1423.4 544.5h6v3h-6zM1408.5 541.5h6v3h-6zM1423.4 541.5h6v3h-6zM1426.4 538.5h6v3h-6zM1429.4 535.5h3v3h-3zM1408.5 532.5h9v3h-9zM1426.4 532.5h3v3h-3zM1432.4 532.5h3v3h-3zM1411.5 529.5h9v3h-9zM1423.4 529.5h3v3h-3zM1429.4 529.5h3v3h-3zM1435.4 529.5h3v3h-3zM1417.5 526.5h6v3h-6zM1426.4 526.5h3v3h-3zM1432.4 526.5h3v3h-3zM1438.4 526.5h3v3h-3zM1423.4 523.5h3v3h-3zM1429.4 523.5h3v3h-3zM1435.4 523.5h3v3h-3zM1441.4 523.5h3v3h-3zM1426.4 520.5h3v3h-3zM1432.4 520.5h3v3h-3zM1438.4 520.5h3v3h-3zM1444.4 520.5h3v3h-3zM1429.4 517.5h3v3h-3zM1435.4 517.5h3v3h-3zM1441.4 517.5h3v3h-3zM1447.4 517.5h3v3h-3zM1432.4 514.5h3v3h-3zM1438.4 514.5h3v3h-3zM1444.4 514.5h3v3h-3zM1450.4 514.5h3v3h-3zM1435.4 511.5h3v3h-3zM1441.4 511.5h3v3h-3zM1447.4 511.5h3v3h-3zM1438.4 508.5h3v3h-3zM1444.4 508.5h3v3h-3zM1456.4 508.5h6v3h-6zM1441.4 505.6h3v3h-3zM1453.4 505.6h3v3h-3zM1459.4 505.6h3v3h-3zM1450.4 502.6h3v3h-3zM1456.4 502.6h3v3h-3zM1462.4 502.6h6v3h-6zM1447.4 499.6h3v3h-3zM1453.4 499.6h3v3h-3zM1447.4 496.6h6v3h-6zM1462.4 496.6h3v3h-3zM1453.4 493.6h3v3h-3zM1459.4 493.6h3v3h-3zM1465.3 493.6h3v3h-3zM1453.4 490.6h3v3h-3zM1462.4 490.6h3v3h-3zM1468.3 490.6h3v3h-3zM1465.3 487.6h3v3h-3zM1471.3 487.6h6v3h-6zM1468.3 484.6h3v3h-3zM1474.3 484.6h6v3h-6zM1468.3 481.6h6v3h-6zM1477.3 481.6h3v3h-3zM1471.3 478.6h6v3h-6zM1480.3 478.6h6v3h-6zM1477.3 475.6h3v3h-3zM1483.3 475.6h6v3h-6zM1477.3 472.6h6v3h-6zM1486.3 472.6h3v3h-3zM1480.3 469.6h6v3h-6zM1495.3 469.6h3v3h-3zM1492.3 466.6h3v3h-3zM1498.3 466.6h3v3h-3zM1489.3 463.6h3v3h-3zM1495.3 463.6h3v3h-3zM1501.3 463.6h3v3h-3zM1486.3 460.6h3v3h-3zM1492.3 460.6h3v3h-3zM1498.3 460.6h3v3h-3zM1504.3 460.6h3v3h-3zM1489.3 457.7h3v3h-3zM1495.3 457.7h3v3h-3zM1501.3 457.7h3v3h-3zM1507.3 457.7h3v3h-3zM1492.3 454.7h3v3h-3zM1498.3 454.7h3v3h-3zM1504.3 454.7h3v3h-3zM1510.2 454.7h3v3h-3zM1495.3 451.7h3v3h-3zM1501.3 451.7h3v3h-3zM1507.3 451.7h3v3h-3zM1513.2 451.7h3v3h-3zM1498.3 448.7h3v3h-3zM1504.3 448.7h3v3h-3zM1510.2 448.7h3v3h-3zM1516.2 448.7h3v3h-3zM1501.3 445.7h3v3h-3zM1507.3 445.7h3v3h-3zM1513.2 445.7h3v3h-3zM1519.2 445.7h3v3h-3zM1504.3 442.7h3v3h-3zM1510.2 442.7h3v3h-3zM1516.2 442.7h3v3h-3zM1522.2 442.7h3v3h-3zM1507.3 439.7h3v3h-3zM1513.2 439.7h3v3h-3zM1519.2 439.7h3v3h-3zM1525.2 439.7h3v3h-3zM1510.2 436.7h3v3h-3zM1516.2 436.7h3v3h-3zM1522.2 436.7h3v3h-3zM1513.2 433.7h3v3h-3zM1519.2 433.7h3v3h-3zM1525.2 433.7h3v3h-3zM1516.2 430.7h3v3h-3zM1522.2 430.7h3v3h-3zM1528.2 430.7h3v3h-3zM1525.2 427.7h3v3h-3zM1531.2 427.7h6v3h-6zM1543.2 427.7h3v3h-3zM1528.2 424.7h3v3h-3zM1534.2 424.7h3v3h-3zM1543.2 424.7h3v3h-3zM1528.2 421.7h6v3h-6zM1537.2 421.7h3v3h-3zM1543.2 421.7h6v3h-6zM1534.2 418.7h3v3h-3zM1546.2 418.7h3v3h-3zM1543.2 415.7h6v3h-6zM1528.2 412.8h9v3h-9zM1540.2 412.8h3v3h-3zM1546.2 412.8h6v3h-6zM1558.1 412.8h3v3h-3zM1534.2 409.8h12v3h-12zM1549.2 409.8h3v3h-3zM1558.1 409.8h3v3h-3zM1543.2 406.8h6v3h-6zM1558.1 406.8h3v3h-3zM1558.1 403.8h3v3h-3zM1558.1 400.8h3v3h-3zM1567.1 400.8h6v3h-6zM1543.2 397.8h15v3h-15zM1561.1 397.8h3v3h-3zM1567.1 397.8h3v3h-3zM1558.1 394.8h3v3h-3zM1564.1 394.8h3v3h-3zM1570.1 394.8h3v3h-3zM1561.1 391.8h3v3h-3zM1567.1 391.8h3v3h-3zM1573.1 391.8h3v3h-3zM1555.1 388.8h6v3h-6zM1564.1 388.8h3v3h-3zM1570.1 388.8h3v3h-3zM1576.1 388.8h3v3h-3zM1555.1 385.8h3v3h-3zM1561.1 385.8h3v3h-3zM1567.1 385.8h3v3h-3zM1573.1 385.8h3v3h-3zM1579.1 385.8h3v3h-3zM1564.1 382.8h3v3h-3zM1570.1 382.8h3v3h-3zM1576.1 382.8h3v3h-3zM1582.1 382.8h3v3h-3zM1567.1 379.8h3v3h-3zM1573.1 379.8h3v3h-3zM1579.1 379.8h3v3h-3zM1585.1 379.8h3v3h-3zM1570.1 376.8h3v3h-3zM1576.1 376.8h3v3h-3zM1582.1 376.8h3v3h-3zM1588.1 376.8h3v3h-3zM1573.1 373.8h3v3h-3zM1579.1 373.8h3v3h-3zM1585.1 373.8h3v3h-3zM1591.1 373.8h3v3h-3zM1576.1 370.8h3v3h-3zM1582.1 370.8h3v3h-3zM1588.1 370.8h3v3h-3zM1594.1 370.8h3v3h-3zM1579.1 367.9h3v3h-3zM1585.1 367.9h3v3h-3zM1591.1 367.9h3v3h-3zM1597 367.9h3v3h-3zM1582.1 364.9h3v3h-3zM1588.1 364.9h3v3h-3zM1594.1 364.9h3v3h-3zM1600 364.9h3v3h-3zM1585.1 361.9h3v3h-3zM1591.1 361.9h3v3h-3zM1597 361.9h3v3h-3zM1603 361.9h3v3h-3zM1588.1 358.9h3v3h-3zM1594.1 358.9h3v3h-3zM1600 358.9h3v3h-3zM1606 358.9h3v3h-3zM1591.1 355.9h3v3h-3zM1597 355.9h3v3h-3zM1603 355.9h3v3h-3zM1609 355.9h3v3h-3zM1594.1 352.9h3v3h-3zM1600 352.9h3v3h-3zM1606 352.9h3v3h-3zM1597 349.9h3v3h-3zM1603 349.9h3v3h-3zM1609 349.9h3v3h-3zM1600 346.9h3v3h-3zM1606 346.9h3v3h-3zM1612 346.9h9v3h-9zM1609 343.9h3v3h-3zM1615 343.9h3v3h-3zM1609 340.9h6v3h-6zM1618 340.9h9v3h-9zM1609 337.9h3v3h-3zM1615 337.9h3v3h-3zM1621 337.9h3v3h-3zM1615 334.9h6v3h-6zM1624 334.9h3v3h-3zM1630 334.9h3v3h-3zM1615 331.9h3v3h-3zM1621 331.9h3v3h-3zM1627 331.9h3v3h-3zM1624 328.9h3v3h-3zM1630 328.9h3v3h-3zM1621 325.9h3v3h-3zM1627 325.9h3v3h-3zM1633 325.9h3v3h-3zM1630 323h3v3h-3zM1636 323h3v3h-3zM1633 320h3v3h-3zM1641.9 320h3v3h-3zM1641.9 317h3v3h-3zM1636 314h6v3h-6zM1644.9 314h3v3h-3zM1641.9 311h3v3h-3zM1647.9 311h3v3h-3zM1644.9 308h3v3h-3zM1650.9 308h3v3h-3zM1647.9 305h3v3h-3zM1653.9 305h3v3h-3zM1650.9 302h3v3h-3zM1656.9 302h3v3h-3zM1653.9 299h3v3h-3zM1659.9 299h3v3h-3zM1656.9 296h3v3h-3zM1662.9 296h9v3h-9zM1659.9 293h3v3h-3zM1665.9 293h9v3h-9zM1659.9 290h6v3h-6zM1668.9 290h6v3h-6zM1659.9 287h9v3h-9zM1671.9 287h3v3h-3zM1680.9 287h3v3h-3zM1662.9 284h9v3h-9zM1674.9 284h3v3h-3zM1680.9 284h6v3h-6zM1671.9 281h3v3h-3zM1677.9 281h3v3h-3zM1683.9 281h3v3h-3zM1674.9 278.1h3v3h-3zM1680.9 278.1h3v3h-3zM1686.8 278.1h3v3h-3zM1668.9 275.1h6v3h-6zM1677.9 275.1h3v3h-3zM1683.9 275.1h3v3h-3zM1671.9 272.1h6v3h-6zM1680.9 272.1h3v3h-3zM1686.8 272.1h3v3h-3zM1677.9 269.1h3v3h-3zM1683.9 269.1h3v3h-3zM1689.8 269.1h6v3h-6zM1686.8 266.1h3v3h-3zM1692.8 266.1h6v3h-6zM1686.8 263.1h6v3h-6zM1695.8 263.1h3v3h-3zM1689.8 260.1h6v3h-6zM1698.8 260.1h3v3h-3zM1695.8 257.1h3v3h-3zM1701.8 257.1h3v3h-3zM1698.8 254.1h3v3h-3zM1704.8 254.1h3v3h-3zM1713.8 254.1h3v3h-3zM1701.8 251.1h3v3h-3zM1707.8 251.1h3v3h-3zM1713.8 251.1h3v3h-3zM1704.8 248.1h3v3h-3zM1710.8 248.1h3v3h-3zM1716.8 248.1h3v3h-3zM1707.8 245.1h3v3h-3zM1713.8 245.1h3v3h-3zM1701.8 242.1h6v3h-6zM1710.8 242.1h3v3h-3zM1716.8 242.1h3v3h-3zM1734.7 242.1h3v3h-3zM1707.8 239.1h3v3h-3zM1713.8 239.1h3v3h-3zM1725.8 236.1h6v3h-6zM1725.8 233.1h3v3h-3zM1734.7 233.1h3v3h-3zM1719.8 230.2h6v3h-6zM1734.7 230.2h3v3h-3zM1719.8 227.2h3v3h-3zM1737.7 227.2h3v3h-3zM1734.7 224.2h3v3h-3zM1740.7 224.2h3v3h-3zM1713.8 221.2h3v3h-3zM1722.8 221.2h6v3h-6zM1731.7 221.2h3v3h-3zM1737.7 221.2h3v3h-3zM1743.7 221.2h3v3h-3zM1728.8 218.2h3v3h-3zM1734.7 218.2h3v3h-3zM1740.7 218.2h3v3h-3zM1746.7 218.2h3v3h-3zM1731.7 215.2h3v3h-3zM1737.7 215.2h3v3h-3zM1743.7 215.2h3v3h-3zM1749.7 215.2h3v3h-3zM1734.7 212.2h3v3h-3zM1740.7 212.2h3v3h-3zM1746.7 212.2h3v3h-3zM1752.7 212.2h3v3h-3zM1737.7 209.2h3v3h-3zM1743.7 209.2h3v3h-3zM1749.7 209.2h3v3h-3zM1755.7 209.2h3v3h-3zM1740.7 206.2h3v3h-3zM1746.7 206.2h3v3h-3zM1752.7 206.2h3v3h-3zM1758.7 206.2h3v3h-3zM1743.7 203.2h3v3h-3zM1749.7 203.2h3v3h-3zM1755.7 203.2h3v3h-3zM1761.7 203.2h3v3h-3zM1746.7 200.2h3v3h-3zM1752.7 200.2h3v3h-3zM1758.7 200.2h3v3h-3zM1764.7 200.2h3v3h-3zM1749.7 197.2h3v3h-3zM1755.7 197.2h3v3h-3zM1761.7 197.2h3v3h-3zM1767.7 197.2h3v3h-3zM1752.7 194.2h3v3h-3zM1758.7 194.2h3v3h-3zM1764.7 194.2h3v3h-3zM1770.7 194.2h3v3h-3zM1776.6 194.2h3v3h-3zM1755.7 191.2h3v3h-3zM1761.7 191.2h3v3h-3zM1767.7 191.2h3v3h-3zM1773.6 191.2h3v3h-3zM1758.7 188.2h3v3h-3zM1764.7 188.2h3v3h-3zM1770.7 188.2h3v3h-3zM1779.6 188.2h3v3h-3zM1761.7 185.3h3v3h-3zM1767.7 185.3h3v3h-3zM1782.6 185.3h3v3h-3zM1764.7 182.3h3v3h-3zM1776.6 182.3h3v3h-3zM1782.6 182.3h6v3h-6zM1761.7 179.3h3v3h-3zM1773.6 179.3h3v3h-3zM1779.6 179.3h3v3h-3zM1785.6 179.3h6v3h-6zM1767.7 176.3h3v3h-3zM1776.6 176.3h3v3h-3zM1782.6 176.3h3v3h-3zM1788.6 176.3h3v3h-3zM1770.7 173.3h6v3h-6zM1779.6 173.3h3v3h-3zM1785.6 173.3h3v3h-3zM1791.6 173.3h3v3h-3zM1773.6 170.3h6v3h-6zM1782.6 170.3h3v3h-3zM1788.6 170.3h3v3h-3zM1794.6 170.3h3v3h-3zM1776.6 167.3h6v3h-6zM1785.6 167.3h3v3h-3zM1791.6 167.3h3v3h-3zM1797.6 167.3h3v3h-3zM1782.6 164.3h3v3h-3zM1788.6 164.3h3v3h-3zM1794.6 164.3h3v3h-3zM1785.6 161.3h3v3h-3zM1791.6 161.3h3v3h-3zM1797.6 161.3h3v3h-3zM1788.6 158.3h3v3h-3zM1794.6 158.3h3v3h-3zM1800.6 158.3h6v3h-6zM1797.6 155.3h3v3h-3zM1803.6 155.3h3v3h-3zM1797.6 152.3h6v3h-6zM1809.6 149.3h9v3h-9zM1806.6 146.3h3v3h-3zM1812.6 146.3h6v3h-6zM1806.6 143.3h6v3h-6zM1815.6 143.3h3v3h-3zM1806.6 140.4h9v3h-9zM1818.5 140.4h3v3h-3zM1815.6 137.4h3v3h-3zM1821.5 137.4h3v3h-3zM1818.5 134.4h3v3h-3zM1824.5 134.4h6v3h-6zM1821.5 131.4h3v3h-3zM1827.5 131.4h3v3h-3zM1833.5 131.4h3v3h-3zM1821.5 128.4h6v3h-6zM1830.5 128.4h6v3h-6zM1827.5 125.4h3v3h-3zM1833.5 125.4h3v3h-3zM1824.5 122.4h9v3h-9zM1836.5 122.4h3v3h-3zM1833.5 119.4h3v3h-3z"/>
<path fill="#ffa408" d="M262.1 1702.9h3v3h-3zM262.1 1699.9h3v3h-3zM253.1 1693.9h6v3h-6zM268.1 1693.9h6v3h-6zM271 1690.9h6v3h-6zM262.1 1688h3v3h-3zM262.1 1685h6v3h-6zM265.1 1682h3v3h-3zM283 1682h3v3h-3zM283 1679h6v3h-6zM274 1673h6v3h-6zM277 1670h3v3h-3zM292 1670h6v3h-6zM295 1667h3v3h-3zM286 1664h3v3h-3zM286 1661h6v3h-6zM301 1661h3v3h-3zM304 1658h3v3h-3zM295 1655h3v3h-3zM307 1655h3v3h-3zM298 1652h3v3h-3zM301 1649h3v3h-3zM555.4 1409.6h3v3h-3zM555.4 1406.6h3v3h-3zM558.4 1403.6h3v3h-3zM546.4 1400.6h6v3h-6zM552.4 1397.6h3v3h-3zM597.3 1364.7h6v3h-6zM591.3 1358.7h3v3h-3zM603.3 1358.7h3v3h-3zM591.3 1355.7h3v3h-3zM597.3 1352.7h3v3h-3zM669.1 1295.8h3v3h-3zM669.1 1292.8h3v3h-3zM660.2 1286.8h6v3h-6zM738 1224h3v3h-3zM732 1218h3v3h-3zM800.8 1161.1h3v3h-3zM806.8 1158.1h3v3h-3zM794.9 1155.1h3v3h-3zM797.9 1149.1h3v3h-3zM1228.9 1137.2h12v3h-12zM1255.8 1119.2h3v3h-3zM1255.8 1116.2h3v3h-3zM1249.8 1113.2h9v3h-9zM1252.8 1110.2h3v3h-3zM938.5 1104.2h6v3h-6zM884.7 1077.3h3v3h-3zM878.7 1071.3h3v3h-3zM896.6 1065.3h3v3h-3zM890.6 1059.3h3v3h-3zM905.6 1059.3h3v3h-3zM896.6 1050.4h3v3h-3zM911.6 1050.4h3v3h-3zM905.6 1044.4h3v3h-3zM851.7 1017.4h3v3h-3zM851.7 1014.4h3v3h-3zM950.5 1011.4h3v3h-3zM944.5 1005.5h3v3h-3zM959.5 1005.5h3v3h-3zM959.5 1002.5h3v3h-3zM950.5 996.5h6v3h-6zM971.5 990.5h3v3h-3zM965.5 984.5h3v3h-3zM992.4 969.5h6v3h-6zM995.4 966.5h3v3h-3zM986.4 963.5h3v3h-3zM986.4 960.6h6v3h-6zM1046.3 918.6h3v3h-3zM1046.3 915.6h3v3h-3zM1037.3 909.7h6v3h-6zM1064.3 906.7h3v3h-3zM1049.3 891.7h3v3h-3zM1079.2 882.7h3v3h-3zM1073.2 876.7h3v3h-3zM1142.1 822.9h6v3h-6zM1145.1 816.9h6v3h-6zM1133.1 813.9h3v3h-3zM1133.1 810.9h3v3h-3zM1139.1 810.9h3v3h-3zM1139.1 807.9h3v3h-3zM1196 766h3v3h-3zM1190 760h3v3h-3zM1222.9 739h3v3h-3zM1216.9 733.1h3v3h-3zM818.8 727.1h3v3h-3zM818.8 724.1h3v3h-3zM818.8 721.1h3v3h-3zM818.8 718.1h3v3h-3zM842.8 706.1h3v3h-3zM842.8 703.1h6v3h-6zM836.8 700.1h9v3h-9zM1264.8 700.1h3v3h-3zM1255.8 691.1h3v3h-3zM1318.7 643.2h6v3h-6zM1312.7 637.3h3v3h-3zM1312.7 634.3h3v3h-3zM1360.6 610.3h3v3h-3zM1345.6 595.4h3v3h-3zM1549.2 553.4h3v3h-3zM1549.2 550.5h3v3h-3zM1468.3 502.6h3v3h-3zM1453.4 487.6h3v3h-3zM1492.3 478.6h3v3h-3zM1477.3 463.6h3v3h-3zM1528.2 436.7h6v3h-6zM1519.2 427.7h3v3h-3zM1519.2 424.7h3v3h-3zM1402.5 406.8h6v3h-6zM1561.1 400.8h6v3h-6zM1555.1 394.8h3v3h-3zM1555.1 391.8h3v3h-3zM1758.7 382.8h3v3h-3zM1725.8 352.9h3v3h-3zM1636 328.9h3v3h-3zM1627 320h3v3h-3zM1650.9 314h3v3h-3zM1650.9 311h3v3h-3zM1656.9 308h3v3h-3zM1641.9 305h6v3h-6zM1656.9 305h3v3h-3zM1647.9 299h6v3h-6zM1689.8 272.1h6v3h-6zM1683.9 266.1h3v3h-3zM1683.9 263.1h3v3h-3zM1704.8 257.1h6v3h-6zM1707.8 254.1h3v3h-3zM1698.8 251.1h3v3h-3zM1698.8 248.1h6v3h-6zM1722.8 242.1h6v3h-6zM1713.8 233.1h3v3h-3zM1603 230.2h3v3h-3zM1713.8 230.2h3v3h-3zM1573.1 197.2h3v3h-3zM1776.6 188.2h3v3h-3zM1767.7 179.3h3v3h-3zM1824.5 137.4h6v3h-6zM1818.5 131.4h3v3h-3zM1818.5 128.4h3v3h-3z"/>
</g>
<rect x="202.2" y="119.4" width="1637.3" height="1637.4" fill="none" stroke="#000" stroke-width="6" stroke-linejoin="round"/>
<g stroke="#000" stroke-width="6" stroke-linecap="round">
<line x1="500.0" y1="119.4" x2="500.0" y2="113.8"/>
<line x1="500.0" y1="1756.8" x2="500.0" y2="1762.4"/>
<line x1="202.2" y1="1459.0" x2="196.6" y2="1459.0"/>
<line x1="1839.5" y1="1459.0" x2="1845.1" y2="1459.0"/>
<line x1="799.4" y1="119.4" x2="799.4" y2="113.8"/>
<line x1="799.4" y1="1756.8" x2="799.4" y2="1762.4"/>
<line x1="202.2" y1="1159.6" x2="196.6" y2="1159.6"/>
<line x1="1839.5" y1="1159.6" x2="1845.1" y2="1159.6"/>
<line x1="1098.7" y1="119.4" x2="1098.7" y2="113.8"/>
<line x1="1098.7" y1="1756.8" x2="1098.7" y2="1762.4"/>
<line x1="202.2" y1="860.3" x2="196.6" y2="860.3"/>
<line x1="1839.5" y1="860.3" x2="1845.1" y2="860.3"/>
<line x1="1398.0" y1="119.4" x2="1398.0" y2="113.8"/>
<line x1="1398.0" y1="1756.8" x2="1398.0" y2="1762.4"/>
<line x1="202.2" y1="560.9" x2="196.6" y2="560.9"/>
<line x1="1839.5" y1="560.9" x2="1845.1" y2="560.9"/>
<line x1="1697.3" y1="119.4" x2="1697.3" y2="113.8"/>
<line x1="1697.3" y1="1756.8" x2="1697.3" y2="1762.4"/>
<line x1="202.2" y1="261.6" x2="196.6" y2="261.6"/>
<line x1="1839.5" y1="261.6" x2="1845.1" y2="261.6"/>
</g>
<text transform="translate(500.2,1811.6) scale(0.953,1)" font-size="63.0" text-anchor="middle">100</text>
<text transform="translate(190.9,1481.8) scale(0.953,1)" font-size="63.0" text-anchor="end">100</text>
<text transform="translate(799.6,1811.6) scale(0.953,1)" font-size="63.0" text-anchor="middle">200</text>
<text transform="translate(190.9,1182.4) scale(0.953,1)" font-size="63.0" text-anchor="end">200</text>
<text transform="translate(1098.9,1811.6) scale(0.953,1)" font-size="63.0" text-anchor="middle">300</text>
<text transform="translate(190.9,883.1) scale(0.953,1)" font-size="63.0" text-anchor="end">300</text>
<text transform="translate(1398.2,1811.6) scale(0.953,1)" font-size="63.0" text-anchor="middle">400</text>
<text transform="translate(190.9,583.7) scale(0.953,1)" font-size="63.0" text-anchor="end">400</text>
<text transform="translate(1697.5,1811.6) scale(0.953,1)" font-size="63.0" text-anchor="middle">500</text>
<text transform="translate(190.9,284.4) scale(0.953,1)" font-size="63.0" text-anchor="end">500</text>
<text transform="translate(1022.3,1868.2) scale(0.975,1)" font-size="61.3" text-anchor="middle">Residue index</text>
<text transform="translate(80.0,936.8) rotate(-90) scale(0.975,1)" font-size="61.3" text-anchor="middle">Residue index</text>
<g shape-rendering="crispEdges">
<rect x="1861.8" y="1654.46" width="12.6" height="102.64" fill="#ff0000"/>
<rect x="1861.8" y="1552.12" width="12.6" height="102.64" fill="#ff1c00"/>
<rect x="1861.8" y="1449.79" width="12.6" height="102.64" fill="#ff3700"/>
<rect x="1861.8" y="1347.45" width="12.6" height="102.64" fill="#ff5200"/>
<rect x="1861.8" y="1245.11" width="12.6" height="102.64" fill="#ff6e00"/>
<rect x="1861.8" y="1142.78" width="12.6" height="102.64" fill="#ff8a00"/>
<rect x="1861.8" y="1040.44" width="12.6" height="102.64" fill="#ffa500"/>
<rect x="1861.8" y="938.10" width="12.6" height="102.64" fill="#00ffff"/>
<rect x="1861.8" y="835.76" width="12.6" height="102.64" fill="#0bedf7"/>
<rect x="1861.8" y="733.43" width="12.6" height="102.64" fill="#16dbee"/>
<rect x="1861.8" y="631.09" width="12.6" height="102.64" fill="#21c9e6"/>
<rect x="1861.8" y="528.75" width="12.6" height="102.64" fill="#2db6dd"/>
<rect x="1861.8" y="426.41" width="12.6" height="102.64" fill="#38a4d5"/>
<rect x="1861.8" y="324.08" width="12.6" height="102.64" fill="#4392cc"/>
<rect x="1861.8" y="221.74" width="12.6" height="102.64" fill="#4e80c4"/>
<rect x="1861.8" y="119.40" width="12.6" height="102.64" fill="#ffffff"/>
</g>
<rect x="1861.8" y="119.4" width="12.6" height="1637.4" fill="none" stroke="#000" stroke-width="6.2" stroke-linejoin="round"/>
<g stroke="#000" stroke-width="6" stroke-linecap="round">
<line x1="1874.4" y1="1696.9" x2="1878.6" y2="1696.9"/>
<line x1="1874.4" y1="1286.7" x2="1878.6" y2="1286.7"/>
<line x1="1874.4" y1="876.5" x2="1878.6" y2="876.5"/>
<line x1="1874.4" y1="466.3" x2="1878.6" y2="466.3"/>
</g>
<text transform="translate(1883.6,1714.5) scale(0.940,1)" font-size="51.2" text-anchor="start">0</text>
<text transform="translate(1883.6,1304.3) scale(0.940,1)" font-size="51.2" text-anchor="start">50</text>
<text transform="translate(1883.6,894.1) scale(0.940,1)" font-size="51.2" text-anchor="start">100</text>
<text transform="translate(1883.6,483.9) scale(0.940,1)" font-size="51.2" text-anchor="start">150</text>
</svg></body></html>
